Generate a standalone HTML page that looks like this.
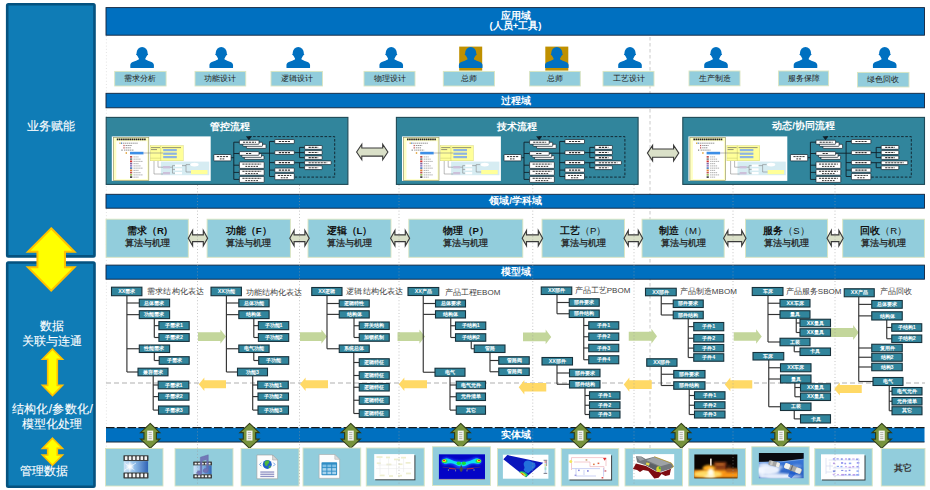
<!DOCTYPE html>
<html><head><meta charset="utf-8"><title>diagram</title>
<style>
html,body{margin:0;padding:0;background:#fff}
body{width:930px;height:490px;position:relative;overflow:hidden;font-family:"Liberation Sans",sans-serif}
svg{position:absolute;left:0;top:0}
.t{position:absolute;text-align:center;white-space:nowrap}
b{font-weight:bold}
</style></head><body>
<svg width="930" height="490" viewBox="0 0 930 490">
<rect x="7.2" y="4.3" width="87.3" height="252.1" fill="#0f7cb6" stroke="#05527f" stroke-width="2.6" rx="1.2"/>
<rect x="7.2" y="262.5" width="87.3" height="224.2" fill="#0f7cb6" stroke="#05527f" stroke-width="2.6" rx="1.2"/>
<line x1="106.4" y1="36" x2="106.4" y2="448" stroke="#dcdcdc" stroke-width="0.8" stroke-dasharray="1 2.2"/>
<line x1="650" y1="37" x2="650" y2="448" stroke="#c4c4c4" stroke-width="0.9" stroke-dasharray="3.5 2.5"/>
<line x1="106" y1="383" x2="925" y2="383" stroke="#a6a6a6" stroke-width="0.9" stroke-dasharray="5 3"/>
<rect x="106" y="7.6" width="818.5" height="27.6" fill="#0070c0" stroke="#13233a" stroke-width="0.9" />
<rect x="106" y="93.3" width="818.5" height="14.5" fill="#0070c0" stroke="#13233a" stroke-width="0.9" />
<rect x="106" y="194.3" width="818.5" height="13.9" fill="#0070c0" stroke="#13233a" stroke-width="0.9" />
<rect x="106" y="265.1" width="818.5" height="14.1" fill="#0070c0" stroke="#13233a" stroke-width="0.9" />
<rect x="106" y="427.8" width="818.5" height="14.2" fill="#0070c0" />
<line x1="106" y1="442" x2="924.5" y2="442" stroke="#1a2a3a" stroke-width="1" />
<line x1="106" y1="427.6" x2="924.5" y2="427.6" stroke="#1a1a1a" stroke-width="1.3" stroke-dasharray="8.5 2.3"/>
<ellipse cx="142.1" cy="53" rx="5.55" ry="6" fill="#0070c0"/>
<ellipse cx="142.1" cy="54.4" rx="6.1" ry="1.6" fill="#0070c0"/>
<path d="M130.3 67.4 v-2.3 c0-3.4 5.4-4 8.5-5.7 v-3.4 h6.6 v3.4 c3.1 1.7 8.5 2.3 8.5 5.7 v2.3 q0 0.6 -0.6 0.6 h-22.4 q-0.6 0 -0.6 -0.6 z" fill="#0070c0" />
<rect x="114.7" y="71.4" width="51.4" height="14.6" fill="#92cddc" stroke="#dbe5c0" stroke-width="0.9" />
<ellipse cx="221.25" cy="53" rx="5.55" ry="6" fill="#0070c0"/>
<ellipse cx="221.25" cy="54.4" rx="6.1" ry="1.6" fill="#0070c0"/>
<path d="M209.45 67.4 v-2.3 c0-3.4 5.4-4 8.5-5.7 v-3.4 h6.6 v3.4 c3.1 1.7 8.5 2.3 8.5 5.7 v2.3 q0 0.6 -0.6 0.6 h-22.4 q-0.6 0 -0.6 -0.6 z" fill="#0070c0" />
<rect x="195" y="71.4" width="50.75" height="14.6" fill="#92cddc" stroke="#dbe5c0" stroke-width="0.9" />
<ellipse cx="298.25" cy="53" rx="5.55" ry="6" fill="#0070c0"/>
<ellipse cx="298.25" cy="54.4" rx="6.1" ry="1.6" fill="#0070c0"/>
<path d="M286.45 67.4 v-2.3 c0-3.4 5.4-4 8.5-5.7 v-3.4 h6.6 v3.4 c3.1 1.7 8.5 2.3 8.5 5.7 v2.3 q0 0.6 -0.6 0.6 h-22.4 q-0.6 0 -0.6 -0.6 z" fill="#0070c0" />
<rect x="271" y="71.4" width="51.5" height="14.6" fill="#92cddc" stroke="#dbe5c0" stroke-width="0.9" />
<ellipse cx="391.25" cy="53" rx="5.55" ry="6" fill="#0070c0"/>
<ellipse cx="391.25" cy="54.4" rx="6.1" ry="1.6" fill="#0070c0"/>
<path d="M379.45 67.4 v-2.3 c0-3.4 5.4-4 8.5-5.7 v-3.4 h6.6 v3.4 c3.1 1.7 8.5 2.3 8.5 5.7 v2.3 q0 0.6 -0.6 0.6 h-22.4 q-0.6 0 -0.6 -0.6 z" fill="#0070c0" />
<rect x="364" y="71.4" width="51" height="14.6" fill="#92cddc" stroke="#dbe5c0" stroke-width="0.9" />
<rect x="459.2" y="46.6" width="23" height="24" fill="#bf9000" />
<ellipse cx="470.7" cy="53" rx="5.55" ry="6" fill="#0070c0"/>
<ellipse cx="470.7" cy="54.4" rx="6.1" ry="1.6" fill="#0070c0"/>
<path d="M458.9 67.4 v-2.3 c0-3.4 5.4-4 8.5-5.7 v-3.4 h6.6 v3.4 c3.1 1.7 8.5 2.3 8.5 5.7 v2.3 q0 0.6 -0.6 0.6 h-22.4 q-0.6 0 -0.6 -0.6 z" fill="#0070c0" />
<rect x="443.3" y="71.4" width="51.2" height="14.6" fill="#92cddc" stroke="#dbe5c0" stroke-width="0.9" />
<rect x="545.3" y="46.6" width="23" height="24" fill="#bf9000" />
<ellipse cx="556.8" cy="53" rx="5.55" ry="6" fill="#0070c0"/>
<ellipse cx="556.8" cy="54.4" rx="6.1" ry="1.6" fill="#0070c0"/>
<path d="M545 67.4 v-2.3 c0-3.4 5.4-4 8.5-5.7 v-3.4 h6.6 v3.4 c3.1 1.7 8.5 2.3 8.5 5.7 v2.3 q0 0.6 -0.6 0.6 h-22.4 q-0.6 0 -0.6 -0.6 z" fill="#0070c0" />
<rect x="529.6" y="71.4" width="50.7" height="14.6" fill="#92cddc" stroke="#dbe5c0" stroke-width="0.9" />
<ellipse cx="630" cy="53" rx="5.55" ry="6" fill="#0070c0"/>
<ellipse cx="630" cy="54.4" rx="6.1" ry="1.6" fill="#0070c0"/>
<path d="M618.2 67.4 v-2.3 c0-3.4 5.4-4 8.5-5.7 v-3.4 h6.6 v3.4 c3.1 1.7 8.5 2.3 8.5 5.7 v2.3 q0 0.6 -0.6 0.6 h-22.4 q-0.6 0 -0.6 -0.6 z" fill="#0070c0" />
<rect x="603" y="71.4" width="51" height="14.6" fill="#92cddc" stroke="#dbe5c0" stroke-width="0.9" />
<ellipse cx="716" cy="53" rx="5.55" ry="6" fill="#0070c0"/>
<ellipse cx="716" cy="54.4" rx="6.1" ry="1.6" fill="#0070c0"/>
<path d="M704.2 67.4 v-2.3 c0-3.4 5.4-4 8.5-5.7 v-3.4 h6.6 v3.4 c3.1 1.7 8.5 2.3 8.5 5.7 v2.3 q0 0.6 -0.6 0.6 h-22.4 q-0.6 0 -0.6 -0.6 z" fill="#0070c0" />
<rect x="689" y="71" width="51" height="14.8" fill="#92cddc" stroke="#dbe5c0" stroke-width="0.9" />
<ellipse cx="805.5" cy="53" rx="5.55" ry="6" fill="#0070c0"/>
<ellipse cx="805.5" cy="54.4" rx="6.1" ry="1.6" fill="#0070c0"/>
<path d="M793.7 67.4 v-2.3 c0-3.4 5.4-4 8.5-5.7 v-3.4 h6.6 v3.4 c3.1 1.7 8.5 2.3 8.5 5.7 v2.3 q0 0.6 -0.6 0.6 h-22.4 q-0.6 0 -0.6 -0.6 z" fill="#0070c0" />
<rect x="778.5" y="71" width="50.1" height="14.8" fill="#92cddc" stroke="#dbe5c0" stroke-width="0.9" />
<ellipse cx="884.7" cy="53" rx="5.55" ry="6" fill="#0070c0"/>
<ellipse cx="884.7" cy="54.4" rx="6.1" ry="1.6" fill="#0070c0"/>
<path d="M872.9 67.4 v-2.3 c0-3.4 5.4-4 8.5-5.7 v-3.4 h6.6 v3.4 c3.1 1.7 8.5 2.3 8.5 5.7 v2.3 q0 0.6 -0.6 0.6 h-22.4 q-0.6 0 -0.6 -0.6 z" fill="#0070c0" />
<rect x="857.5" y="72.4" width="51.5" height="14.6" fill="#92cddc" stroke="#dbe5c0" stroke-width="0.9" />
<rect x="106.2" y="117.4" width="241.7" height="67" fill="#31859c" stroke="#1f4a57" stroke-width="1.1" />
<g transform="translate(0 0)">
<rect x="111.8" y="136.4" width="98.9" height="44.5" fill="#fff" />
<rect x="113.3" y="137.4" width="35.5" height="43.1" fill="#ffffc4" stroke="#8c8c58" stroke-width="0.6" />
<rect x="116.3" y="141.2" width="31" height="38" fill="#fff" />
<line x1="116.8" y1="139.4" x2="146.2" y2="139.4" stroke="#222" stroke-width="1.7" stroke-dasharray="1.6 0.5"/>
<line x1="123" y1="143.2" x2="138" y2="143.2" stroke="#666" stroke-width="0.7" stroke-dasharray="1.4 0.5"/>
<line x1="125.6" y1="145.5" x2="132" y2="145.5" stroke="#666" stroke-width="0.7" stroke-dasharray="1.4 0.5"/>
<line x1="125.6" y1="147.8" x2="131" y2="147.8" stroke="#666" stroke-width="0.7" stroke-dasharray="1.4 0.5"/>
<line x1="124" y1="150.1" x2="134" y2="150.1" stroke="#666" stroke-width="0.7" stroke-dasharray="1.4 0.5"/>
<rect x="119.4" y="142.5" width="1.2" height="1.4" fill="#e0b030" />
<rect x="121" y="142.5" width="1.2" height="1.4" fill="#4f81bd" />
<rect x="123.4" y="144.9" width="1.2" height="1.3" fill="#c0504d" />
<rect x="123.4" y="147.2" width="1.2" height="1.3" fill="#c0504d" />
<rect x="121.4" y="149.5" width="1.2" height="1.3" fill="#888" />
<rect x="125.6" y="152.2" width="1.4" height="1.6" fill="#e0a030" />
<rect x="130" y="151.8" width="13.5" height="2.6" fill="#3c8ee6" />
<rect x="130" y="156" width="2.2" height="1.7" fill="#c0504d" />
<line x1="133.5" y1="156.9" x2="138.5" y2="156.9" stroke="#777" stroke-width="0.6" stroke-dasharray="1.4 0.5"/>
<rect x="130" y="158.25" width="2.2" height="1.7" fill="#7f7f7f" />
<line x1="133.5" y1="159.15" x2="140.5" y2="159.15" stroke="#777" stroke-width="0.6" stroke-dasharray="1.4 0.5"/>
<rect x="130" y="160.5" width="2.2" height="1.7" fill="#d03030" />
<line x1="133.5" y1="161.4" x2="142.5" y2="161.4" stroke="#777" stroke-width="0.6" stroke-dasharray="1.4 0.5"/>
<rect x="130" y="162.75" width="2.2" height="1.7" fill="#8064a2" />
<line x1="133.5" y1="163.65" x2="138.5" y2="163.65" stroke="#777" stroke-width="0.6" stroke-dasharray="1.4 0.5"/>
<rect x="130" y="165" width="2.2" height="1.7" fill="#9b7fc0" />
<line x1="133.5" y1="165.9" x2="140.5" y2="165.9" stroke="#777" stroke-width="0.6" stroke-dasharray="1.4 0.5"/>
<rect x="130" y="167.25" width="2.2" height="1.7" fill="#4f81bd" />
<line x1="133.5" y1="168.15" x2="142.5" y2="168.15" stroke="#777" stroke-width="0.6" stroke-dasharray="1.4 0.5"/>
<rect x="130" y="169.5" width="2.2" height="1.7" fill="#e08030" />
<line x1="133.5" y1="170.4" x2="138.5" y2="170.4" stroke="#777" stroke-width="0.6" stroke-dasharray="1.4 0.5"/>
<rect x="130" y="171.75" width="2.2" height="1.7" fill="#c0504d" />
<line x1="133.5" y1="172.65" x2="140.5" y2="172.65" stroke="#777" stroke-width="0.6" stroke-dasharray="1.4 0.5"/>
<rect x="130" y="174" width="2.2" height="1.7" fill="#9bbb59" />
<line x1="133.5" y1="174.9" x2="142.5" y2="174.9" stroke="#777" stroke-width="0.6" stroke-dasharray="1.4 0.5"/>
<rect x="130" y="176.25" width="2.2" height="1.7" fill="#444" />
<line x1="133.5" y1="177.15" x2="138.5" y2="177.15" stroke="#777" stroke-width="0.6" stroke-dasharray="1.4 0.5"/>
<rect x="150.3" y="145.7" width="32.9" height="15.1" fill="#ffff99" stroke="#d0d068" stroke-width="0.4" />
<path d="M160.7 145.7 V160.8 M150.3 158.2 H160.7" fill="none" stroke="#b8b860" stroke-width="0.4" />
<line x1="151" y1="147.6" x2="160" y2="147.6" stroke="#666" stroke-width="0.7" />
<line x1="151" y1="149.6" x2="157" y2="149.6" stroke="#666" stroke-width="0.7" />
<line x1="162" y1="147.6" x2="181" y2="147.6" stroke="#666" stroke-width="0.7" />
<rect x="163.2" y="149" width="13.6" height="2.2" fill="#8db4e2" />
<rect x="163.2" y="152.6" width="13.6" height="2.2" fill="#8db4e2" />
<rect x="163.2" y="156" width="13.6" height="2.2" fill="#8db4e2" />
<rect x="160.9" y="161.6" width="48.3" height="13.6" fill="#d6ecf2" />
<rect x="163" y="166" width="7" height="2.4" fill="#ccc0da" />
<rect x="163" y="172" width="7" height="2.4" fill="#ccc0da" />
<rect x="175" y="164.5" width="7" height="2.3" fill="#fff" />
<rect x="175" y="168.3" width="7" height="2.3" fill="#fff" />
<rect x="175" y="172" width="7" height="2.3" fill="#fff" />
<ellipse cx="194.5" cy="164.6" rx="4.2" ry="1.9" fill="#fff"/>
<rect x="191" y="170" width="16.5" height="4.2" fill="#ffff99" />
<path d="M154 161 V174 H163 M158 161 V167.2 H163 M170 167.2 H172.5 V165.6 H175 M172.5 167.2 V173.2 H175 M172.5 169.4 H175 M182 165.6 H186 V164.6 H190 M186 165.6 V172 H191 M143.5 153 H163" fill="none" stroke="#777" stroke-width="0.5" />
</g>
<g transform="translate(0 0)">
<path d="M231.1 157.7 H233.8 M233.8 142.2 V179.4 M233.8 142.2 H239.4 M233.8 153.5 H239.4 M233.8 165.2 H239.4 M233.8 172.4 H239.4 M233.8 179.4 H239.4 M259 153.2 H274.8 M269.5 141.5 V176.5 M269.5 141.5 H274.8 M269.5 162.6 H274.8 M269.5 170.1 H274.8 M269.5 176.5 H274.8 M294.3 152.6 H304.6 M299.6 147.4 V157.6 M299.6 147.4 H304.6 M299.6 157.6 H304.6 M294.3 162.7 H304.6 M299.6 162.7 V167.7 H304.6" fill="none" stroke="#10202a" stroke-width="0.9" />
<path d="M248.9 136.6 H334.7 V177.1 H294.3" fill="none" stroke="#10202a" stroke-width="0.9" stroke-dasharray="2.6 1.6"/>
<path d="M245.9 136.3 H251.9 L248.9 140.3 Z" fill="#10202a" />
<rect x="213.8" y="154.5" width="17.3" height="6.4" fill="#fff" stroke="#10202a" stroke-width="0.7" rx="0.6"/>
<line x1="216.8" y1="156.6" x2="228.1" y2="156.6" stroke="#333" stroke-width="1" stroke-dasharray="2.2 0.8"/>
<line x1="219.8" y1="158.9" x2="225.1" y2="158.9" stroke="#333" stroke-width="1" stroke-dasharray="1.8 0.9"/>
<rect x="246.4" y="144.3" width="19.6" height="4.1" fill="#fff" stroke="#10202a" stroke-width="0.7" rx="0.6"/>
<rect x="242.9" y="142.25" width="19.6" height="4.1" fill="#fff" stroke="#10202a" stroke-width="0.7" rx="0.6"/>
<rect x="239.4" y="140.2" width="19.6" height="4.1" fill="#fff" stroke="#10202a" stroke-width="0.7" rx="0.6"/>
<line x1="243" y1="142.2" x2="256" y2="142.2" stroke="#333" stroke-width="1.1" stroke-dasharray="2.2 0.8"/>
<rect x="244.4" y="155.7" width="19.6" height="3.7" fill="#fff" stroke="#10202a" stroke-width="0.7" rx="0.6"/>
<rect x="241.9" y="153.65" width="19.6" height="3.7" fill="#fff" stroke="#10202a" stroke-width="0.7" rx="0.6"/>
<rect x="239.4" y="151.6" width="19.6" height="3.7" fill="#fff" stroke="#10202a" stroke-width="0.7" rx="0.6"/>
<line x1="246" y1="153.5" x2="252" y2="153.5" stroke="#333" stroke-width="1.1" stroke-dasharray="2.2 0.8"/>
<rect x="239.4" y="162" width="24.8" height="6.4" fill="#fff" stroke="#10202a" stroke-width="0.7" rx="0.6"/>
<line x1="242.4" y1="164.1" x2="261.2" y2="164.1" stroke="#333" stroke-width="1" stroke-dasharray="2.2 0.8"/>
<line x1="245.4" y1="166.4" x2="258.2" y2="166.4" stroke="#333" stroke-width="1" stroke-dasharray="1.8 0.9"/>
<rect x="239.4" y="169.6" width="24.8" height="5.6" fill="#fff" stroke="#10202a" stroke-width="0.7" rx="0.6"/>
<line x1="242.4" y1="171.3" x2="261.2" y2="171.3" stroke="#333" stroke-width="1" stroke-dasharray="2.2 0.8"/>
<line x1="245.4" y1="173.6" x2="258.2" y2="173.6" stroke="#333" stroke-width="1" stroke-dasharray="1.8 0.9"/>
<rect x="239.4" y="176.4" width="24.8" height="6" fill="#fff" stroke="#10202a" stroke-width="0.7" rx="0.6"/>
<line x1="242.4" y1="178.3" x2="261.2" y2="178.3" stroke="#333" stroke-width="1" stroke-dasharray="2.2 0.8"/>
<line x1="245.4" y1="180.6" x2="258.2" y2="180.6" stroke="#333" stroke-width="1" stroke-dasharray="1.8 0.9"/>
<rect x="274.8" y="139.5" width="19.5" height="4.1" fill="#fff" stroke="#10202a" stroke-width="0.7" rx="0.6"/>
<line x1="278.8" y1="141.55" x2="290.3" y2="141.55" stroke="#333" stroke-width="1.1" stroke-dasharray="2.2 0.8"/>
<rect x="274.8" y="150.8" width="19.5" height="3.7" fill="#fff" stroke="#10202a" stroke-width="0.7" rx="0.6"/>
<line x1="278.8" y1="152.65" x2="290.3" y2="152.65" stroke="#333" stroke-width="1.1" stroke-dasharray="2.2 0.8"/>
<rect x="274.8" y="160.6" width="19.5" height="4" fill="#fff" stroke="#10202a" stroke-width="0.7" rx="0.6"/>
<line x1="278.8" y1="162.6" x2="290.3" y2="162.6" stroke="#333" stroke-width="1.1" stroke-dasharray="2.2 0.8"/>
<rect x="274.8" y="168.1" width="19.5" height="4.1" fill="#fff" stroke="#10202a" stroke-width="0.7" rx="0.6"/>
<line x1="278.8" y1="170.15" x2="290.3" y2="170.15" stroke="#333" stroke-width="1.1" stroke-dasharray="2.2 0.8"/>
<rect x="274.8" y="173.4" width="19.5" height="6.3" fill="#fff" stroke="#10202a" stroke-width="0.7" rx="0.6"/>
<line x1="277.8" y1="175.45" x2="291.3" y2="175.45" stroke="#333" stroke-width="1" stroke-dasharray="2.2 0.8"/>
<line x1="280.8" y1="177.75" x2="288.3" y2="177.75" stroke="#333" stroke-width="1" stroke-dasharray="1.8 0.9"/>
<rect x="304.6" y="145.5" width="17.6" height="3.8" fill="#fff" stroke="#10202a" stroke-width="0.7" rx="0.6"/>
<line x1="308.6" y1="147.4" x2="318.2" y2="147.4" stroke="#333" stroke-width="1.1" stroke-dasharray="2.2 0.8"/>
<rect x="304.6" y="150.6" width="17.6" height="3.9" fill="#fff" stroke="#10202a" stroke-width="0.7" rx="0.6"/>
<line x1="308.6" y1="152.55" x2="318.2" y2="152.55" stroke="#333" stroke-width="1.1" stroke-dasharray="2.2 0.8"/>
<rect x="304.6" y="155.9" width="17.6" height="3.5" fill="#fff" stroke="#10202a" stroke-width="0.7" rx="0.6"/>
<line x1="308.6" y1="157.65" x2="318.2" y2="157.65" stroke="#333" stroke-width="1.1" stroke-dasharray="2.2 0.8"/>
<rect x="304.6" y="160.9" width="26.6" height="3.7" fill="#fff" stroke="#10202a" stroke-width="0.7" rx="0.6"/>
<line x1="308.6" y1="162.75" x2="327.2" y2="162.75" stroke="#333" stroke-width="1.1" stroke-dasharray="2.2 0.8"/>
<rect x="304.6" y="165.8" width="17.6" height="3.8" fill="#fff" stroke="#10202a" stroke-width="0.7" rx="0.6"/>
<line x1="308.6" y1="167.7" x2="318.2" y2="167.7" stroke="#333" stroke-width="1.1" stroke-dasharray="2.2 0.8"/>
</g>
<rect x="396.4" y="117.4" width="241.7" height="67" fill="#31859c" stroke="#1f4a57" stroke-width="1.1" />
<g transform="translate(290.2 0)">
<rect x="111.8" y="136.4" width="98.9" height="44.5" fill="#fff" />
<rect x="113.3" y="137.4" width="35.5" height="43.1" fill="#ffffc4" stroke="#8c8c58" stroke-width="0.6" />
<rect x="116.3" y="141.2" width="31" height="38" fill="#fff" />
<line x1="116.8" y1="139.4" x2="146.2" y2="139.4" stroke="#222" stroke-width="1.7" stroke-dasharray="1.6 0.5"/>
<line x1="123" y1="143.2" x2="138" y2="143.2" stroke="#666" stroke-width="0.7" stroke-dasharray="1.4 0.5"/>
<line x1="125.6" y1="145.5" x2="132" y2="145.5" stroke="#666" stroke-width="0.7" stroke-dasharray="1.4 0.5"/>
<line x1="125.6" y1="147.8" x2="131" y2="147.8" stroke="#666" stroke-width="0.7" stroke-dasharray="1.4 0.5"/>
<line x1="124" y1="150.1" x2="134" y2="150.1" stroke="#666" stroke-width="0.7" stroke-dasharray="1.4 0.5"/>
<rect x="119.4" y="142.5" width="1.2" height="1.4" fill="#e0b030" />
<rect x="121" y="142.5" width="1.2" height="1.4" fill="#4f81bd" />
<rect x="123.4" y="144.9" width="1.2" height="1.3" fill="#c0504d" />
<rect x="123.4" y="147.2" width="1.2" height="1.3" fill="#c0504d" />
<rect x="121.4" y="149.5" width="1.2" height="1.3" fill="#888" />
<rect x="125.6" y="152.2" width="1.4" height="1.6" fill="#e0a030" />
<rect x="130" y="151.8" width="13.5" height="2.6" fill="#3c8ee6" />
<rect x="130" y="156" width="2.2" height="1.7" fill="#c0504d" />
<line x1="133.5" y1="156.9" x2="138.5" y2="156.9" stroke="#777" stroke-width="0.6" stroke-dasharray="1.4 0.5"/>
<rect x="130" y="158.25" width="2.2" height="1.7" fill="#7f7f7f" />
<line x1="133.5" y1="159.15" x2="140.5" y2="159.15" stroke="#777" stroke-width="0.6" stroke-dasharray="1.4 0.5"/>
<rect x="130" y="160.5" width="2.2" height="1.7" fill="#d03030" />
<line x1="133.5" y1="161.4" x2="142.5" y2="161.4" stroke="#777" stroke-width="0.6" stroke-dasharray="1.4 0.5"/>
<rect x="130" y="162.75" width="2.2" height="1.7" fill="#8064a2" />
<line x1="133.5" y1="163.65" x2="138.5" y2="163.65" stroke="#777" stroke-width="0.6" stroke-dasharray="1.4 0.5"/>
<rect x="130" y="165" width="2.2" height="1.7" fill="#9b7fc0" />
<line x1="133.5" y1="165.9" x2="140.5" y2="165.9" stroke="#777" stroke-width="0.6" stroke-dasharray="1.4 0.5"/>
<rect x="130" y="167.25" width="2.2" height="1.7" fill="#4f81bd" />
<line x1="133.5" y1="168.15" x2="142.5" y2="168.15" stroke="#777" stroke-width="0.6" stroke-dasharray="1.4 0.5"/>
<rect x="130" y="169.5" width="2.2" height="1.7" fill="#e08030" />
<line x1="133.5" y1="170.4" x2="138.5" y2="170.4" stroke="#777" stroke-width="0.6" stroke-dasharray="1.4 0.5"/>
<rect x="130" y="171.75" width="2.2" height="1.7" fill="#c0504d" />
<line x1="133.5" y1="172.65" x2="140.5" y2="172.65" stroke="#777" stroke-width="0.6" stroke-dasharray="1.4 0.5"/>
<rect x="130" y="174" width="2.2" height="1.7" fill="#9bbb59" />
<line x1="133.5" y1="174.9" x2="142.5" y2="174.9" stroke="#777" stroke-width="0.6" stroke-dasharray="1.4 0.5"/>
<rect x="130" y="176.25" width="2.2" height="1.7" fill="#444" />
<line x1="133.5" y1="177.15" x2="138.5" y2="177.15" stroke="#777" stroke-width="0.6" stroke-dasharray="1.4 0.5"/>
<rect x="150.3" y="145.7" width="32.9" height="15.1" fill="#ffff99" stroke="#d0d068" stroke-width="0.4" />
<path d="M160.7 145.7 V160.8 M150.3 158.2 H160.7" fill="none" stroke="#b8b860" stroke-width="0.4" />
<line x1="151" y1="147.6" x2="160" y2="147.6" stroke="#666" stroke-width="0.7" />
<line x1="151" y1="149.6" x2="157" y2="149.6" stroke="#666" stroke-width="0.7" />
<line x1="162" y1="147.6" x2="181" y2="147.6" stroke="#666" stroke-width="0.7" />
<rect x="163.2" y="149" width="13.6" height="2.2" fill="#8db4e2" />
<rect x="163.2" y="152.6" width="13.6" height="2.2" fill="#8db4e2" />
<rect x="163.2" y="156" width="13.6" height="2.2" fill="#8db4e2" />
<rect x="160.9" y="161.6" width="48.3" height="13.6" fill="#d6ecf2" />
<rect x="163" y="166" width="7" height="2.4" fill="#ccc0da" />
<rect x="163" y="172" width="7" height="2.4" fill="#ccc0da" />
<rect x="175" y="164.5" width="7" height="2.3" fill="#fff" />
<rect x="175" y="168.3" width="7" height="2.3" fill="#fff" />
<rect x="175" y="172" width="7" height="2.3" fill="#fff" />
<ellipse cx="194.5" cy="164.6" rx="4.2" ry="1.9" fill="#fff"/>
<rect x="191" y="170" width="16.5" height="4.2" fill="#ffff99" />
<path d="M154 161 V174 H163 M158 161 V167.2 H163 M170 167.2 H172.5 V165.6 H175 M172.5 167.2 V173.2 H175 M172.5 169.4 H175 M182 165.6 H186 V164.6 H190 M186 165.6 V172 H191 M143.5 153 H163" fill="none" stroke="#777" stroke-width="0.5" />
</g>
<g transform="translate(290.2 0)">
<path d="M231.1 157.7 H233.8 M233.8 142.2 V179.4 M233.8 142.2 H239.4 M233.8 153.5 H239.4 M233.8 165.2 H239.4 M233.8 172.4 H239.4 M233.8 179.4 H239.4 M259 153.2 H274.8 M269.5 141.5 V176.5 M269.5 141.5 H274.8 M269.5 162.6 H274.8 M269.5 170.1 H274.8 M269.5 176.5 H274.8 M294.3 152.6 H304.6 M299.6 147.4 V157.6 M299.6 147.4 H304.6 M299.6 157.6 H304.6 M294.3 162.7 H304.6 M299.6 162.7 V167.7 H304.6" fill="none" stroke="#10202a" stroke-width="0.9" />
<path d="M248.9 136.6 H334.7 V177.1 H294.3" fill="none" stroke="#10202a" stroke-width="0.9" stroke-dasharray="2.6 1.6"/>
<path d="M245.9 136.3 H251.9 L248.9 140.3 Z" fill="#10202a" />
<rect x="213.8" y="154.5" width="17.3" height="6.4" fill="#fff" stroke="#10202a" stroke-width="0.7" rx="0.6"/>
<line x1="216.8" y1="156.6" x2="228.1" y2="156.6" stroke="#333" stroke-width="1" stroke-dasharray="2.2 0.8"/>
<line x1="219.8" y1="158.9" x2="225.1" y2="158.9" stroke="#333" stroke-width="1" stroke-dasharray="1.8 0.9"/>
<rect x="246.4" y="144.3" width="19.6" height="4.1" fill="#fff" stroke="#10202a" stroke-width="0.7" rx="0.6"/>
<rect x="242.9" y="142.25" width="19.6" height="4.1" fill="#fff" stroke="#10202a" stroke-width="0.7" rx="0.6"/>
<rect x="239.4" y="140.2" width="19.6" height="4.1" fill="#fff" stroke="#10202a" stroke-width="0.7" rx="0.6"/>
<line x1="243" y1="142.2" x2="256" y2="142.2" stroke="#333" stroke-width="1.1" stroke-dasharray="2.2 0.8"/>
<rect x="244.4" y="155.7" width="19.6" height="3.7" fill="#fff" stroke="#10202a" stroke-width="0.7" rx="0.6"/>
<rect x="241.9" y="153.65" width="19.6" height="3.7" fill="#fff" stroke="#10202a" stroke-width="0.7" rx="0.6"/>
<rect x="239.4" y="151.6" width="19.6" height="3.7" fill="#fff" stroke="#10202a" stroke-width="0.7" rx="0.6"/>
<line x1="246" y1="153.5" x2="252" y2="153.5" stroke="#333" stroke-width="1.1" stroke-dasharray="2.2 0.8"/>
<rect x="239.4" y="162" width="24.8" height="6.4" fill="#fff" stroke="#10202a" stroke-width="0.7" rx="0.6"/>
<line x1="242.4" y1="164.1" x2="261.2" y2="164.1" stroke="#333" stroke-width="1" stroke-dasharray="2.2 0.8"/>
<line x1="245.4" y1="166.4" x2="258.2" y2="166.4" stroke="#333" stroke-width="1" stroke-dasharray="1.8 0.9"/>
<rect x="239.4" y="169.6" width="24.8" height="5.6" fill="#fff" stroke="#10202a" stroke-width="0.7" rx="0.6"/>
<line x1="242.4" y1="171.3" x2="261.2" y2="171.3" stroke="#333" stroke-width="1" stroke-dasharray="2.2 0.8"/>
<line x1="245.4" y1="173.6" x2="258.2" y2="173.6" stroke="#333" stroke-width="1" stroke-dasharray="1.8 0.9"/>
<rect x="239.4" y="176.4" width="24.8" height="6" fill="#fff" stroke="#10202a" stroke-width="0.7" rx="0.6"/>
<line x1="242.4" y1="178.3" x2="261.2" y2="178.3" stroke="#333" stroke-width="1" stroke-dasharray="2.2 0.8"/>
<line x1="245.4" y1="180.6" x2="258.2" y2="180.6" stroke="#333" stroke-width="1" stroke-dasharray="1.8 0.9"/>
<rect x="274.8" y="139.5" width="19.5" height="4.1" fill="#fff" stroke="#10202a" stroke-width="0.7" rx="0.6"/>
<line x1="278.8" y1="141.55" x2="290.3" y2="141.55" stroke="#333" stroke-width="1.1" stroke-dasharray="2.2 0.8"/>
<rect x="274.8" y="150.8" width="19.5" height="3.7" fill="#fff" stroke="#10202a" stroke-width="0.7" rx="0.6"/>
<line x1="278.8" y1="152.65" x2="290.3" y2="152.65" stroke="#333" stroke-width="1.1" stroke-dasharray="2.2 0.8"/>
<rect x="274.8" y="160.6" width="19.5" height="4" fill="#fff" stroke="#10202a" stroke-width="0.7" rx="0.6"/>
<line x1="278.8" y1="162.6" x2="290.3" y2="162.6" stroke="#333" stroke-width="1.1" stroke-dasharray="2.2 0.8"/>
<rect x="274.8" y="168.1" width="19.5" height="4.1" fill="#fff" stroke="#10202a" stroke-width="0.7" rx="0.6"/>
<line x1="278.8" y1="170.15" x2="290.3" y2="170.15" stroke="#333" stroke-width="1.1" stroke-dasharray="2.2 0.8"/>
<rect x="274.8" y="173.4" width="19.5" height="6.3" fill="#fff" stroke="#10202a" stroke-width="0.7" rx="0.6"/>
<line x1="277.8" y1="175.45" x2="291.3" y2="175.45" stroke="#333" stroke-width="1" stroke-dasharray="2.2 0.8"/>
<line x1="280.8" y1="177.75" x2="288.3" y2="177.75" stroke="#333" stroke-width="1" stroke-dasharray="1.8 0.9"/>
<rect x="304.6" y="145.5" width="17.6" height="3.8" fill="#fff" stroke="#10202a" stroke-width="0.7" rx="0.6"/>
<line x1="308.6" y1="147.4" x2="318.2" y2="147.4" stroke="#333" stroke-width="1.1" stroke-dasharray="2.2 0.8"/>
<rect x="304.6" y="150.6" width="17.6" height="3.9" fill="#fff" stroke="#10202a" stroke-width="0.7" rx="0.6"/>
<line x1="308.6" y1="152.55" x2="318.2" y2="152.55" stroke="#333" stroke-width="1.1" stroke-dasharray="2.2 0.8"/>
<rect x="304.6" y="155.9" width="17.6" height="3.5" fill="#fff" stroke="#10202a" stroke-width="0.7" rx="0.6"/>
<line x1="308.6" y1="157.65" x2="318.2" y2="157.65" stroke="#333" stroke-width="1.1" stroke-dasharray="2.2 0.8"/>
<rect x="304.6" y="160.9" width="26.6" height="3.7" fill="#fff" stroke="#10202a" stroke-width="0.7" rx="0.6"/>
<line x1="308.6" y1="162.75" x2="327.2" y2="162.75" stroke="#333" stroke-width="1.1" stroke-dasharray="2.2 0.8"/>
<rect x="304.6" y="165.8" width="17.6" height="3.8" fill="#fff" stroke="#10202a" stroke-width="0.7" rx="0.6"/>
<line x1="308.6" y1="167.7" x2="318.2" y2="167.7" stroke="#333" stroke-width="1.1" stroke-dasharray="2.2 0.8"/>
</g>
<rect x="682.8" y="117.4" width="241.7" height="67" fill="#31859c" stroke="#1f4a57" stroke-width="1.1" />
<g transform="translate(576.6 0)">
<rect x="111.8" y="136.4" width="98.9" height="44.5" fill="#fff" />
<rect x="113.3" y="137.4" width="35.5" height="43.1" fill="#ffffc4" stroke="#8c8c58" stroke-width="0.6" />
<rect x="116.3" y="141.2" width="31" height="38" fill="#fff" />
<line x1="116.8" y1="139.4" x2="146.2" y2="139.4" stroke="#222" stroke-width="1.7" stroke-dasharray="1.6 0.5"/>
<line x1="123" y1="143.2" x2="138" y2="143.2" stroke="#666" stroke-width="0.7" stroke-dasharray="1.4 0.5"/>
<line x1="125.6" y1="145.5" x2="132" y2="145.5" stroke="#666" stroke-width="0.7" stroke-dasharray="1.4 0.5"/>
<line x1="125.6" y1="147.8" x2="131" y2="147.8" stroke="#666" stroke-width="0.7" stroke-dasharray="1.4 0.5"/>
<line x1="124" y1="150.1" x2="134" y2="150.1" stroke="#666" stroke-width="0.7" stroke-dasharray="1.4 0.5"/>
<rect x="119.4" y="142.5" width="1.2" height="1.4" fill="#e0b030" />
<rect x="121" y="142.5" width="1.2" height="1.4" fill="#4f81bd" />
<rect x="123.4" y="144.9" width="1.2" height="1.3" fill="#c0504d" />
<rect x="123.4" y="147.2" width="1.2" height="1.3" fill="#c0504d" />
<rect x="121.4" y="149.5" width="1.2" height="1.3" fill="#888" />
<rect x="125.6" y="152.2" width="1.4" height="1.6" fill="#e0a030" />
<rect x="130" y="151.8" width="13.5" height="2.6" fill="#3c8ee6" />
<rect x="130" y="156" width="2.2" height="1.7" fill="#c0504d" />
<line x1="133.5" y1="156.9" x2="138.5" y2="156.9" stroke="#777" stroke-width="0.6" stroke-dasharray="1.4 0.5"/>
<rect x="130" y="158.25" width="2.2" height="1.7" fill="#7f7f7f" />
<line x1="133.5" y1="159.15" x2="140.5" y2="159.15" stroke="#777" stroke-width="0.6" stroke-dasharray="1.4 0.5"/>
<rect x="130" y="160.5" width="2.2" height="1.7" fill="#d03030" />
<line x1="133.5" y1="161.4" x2="142.5" y2="161.4" stroke="#777" stroke-width="0.6" stroke-dasharray="1.4 0.5"/>
<rect x="130" y="162.75" width="2.2" height="1.7" fill="#8064a2" />
<line x1="133.5" y1="163.65" x2="138.5" y2="163.65" stroke="#777" stroke-width="0.6" stroke-dasharray="1.4 0.5"/>
<rect x="130" y="165" width="2.2" height="1.7" fill="#9b7fc0" />
<line x1="133.5" y1="165.9" x2="140.5" y2="165.9" stroke="#777" stroke-width="0.6" stroke-dasharray="1.4 0.5"/>
<rect x="130" y="167.25" width="2.2" height="1.7" fill="#4f81bd" />
<line x1="133.5" y1="168.15" x2="142.5" y2="168.15" stroke="#777" stroke-width="0.6" stroke-dasharray="1.4 0.5"/>
<rect x="130" y="169.5" width="2.2" height="1.7" fill="#e08030" />
<line x1="133.5" y1="170.4" x2="138.5" y2="170.4" stroke="#777" stroke-width="0.6" stroke-dasharray="1.4 0.5"/>
<rect x="130" y="171.75" width="2.2" height="1.7" fill="#c0504d" />
<line x1="133.5" y1="172.65" x2="140.5" y2="172.65" stroke="#777" stroke-width="0.6" stroke-dasharray="1.4 0.5"/>
<rect x="130" y="174" width="2.2" height="1.7" fill="#9bbb59" />
<line x1="133.5" y1="174.9" x2="142.5" y2="174.9" stroke="#777" stroke-width="0.6" stroke-dasharray="1.4 0.5"/>
<rect x="130" y="176.25" width="2.2" height="1.7" fill="#444" />
<line x1="133.5" y1="177.15" x2="138.5" y2="177.15" stroke="#777" stroke-width="0.6" stroke-dasharray="1.4 0.5"/>
<rect x="150.3" y="145.7" width="32.9" height="15.1" fill="#ffff99" stroke="#d0d068" stroke-width="0.4" />
<path d="M160.7 145.7 V160.8 M150.3 158.2 H160.7" fill="none" stroke="#b8b860" stroke-width="0.4" />
<line x1="151" y1="147.6" x2="160" y2="147.6" stroke="#666" stroke-width="0.7" />
<line x1="151" y1="149.6" x2="157" y2="149.6" stroke="#666" stroke-width="0.7" />
<line x1="162" y1="147.6" x2="181" y2="147.6" stroke="#666" stroke-width="0.7" />
<rect x="163.2" y="149" width="13.6" height="2.2" fill="#8db4e2" />
<rect x="163.2" y="152.6" width="13.6" height="2.2" fill="#8db4e2" />
<rect x="163.2" y="156" width="13.6" height="2.2" fill="#8db4e2" />
<rect x="160.9" y="161.6" width="48.3" height="13.6" fill="#d6ecf2" />
<rect x="163" y="166" width="7" height="2.4" fill="#ccc0da" />
<rect x="163" y="172" width="7" height="2.4" fill="#ccc0da" />
<rect x="175" y="164.5" width="7" height="2.3" fill="#fff" />
<rect x="175" y="168.3" width="7" height="2.3" fill="#fff" />
<rect x="175" y="172" width="7" height="2.3" fill="#fff" />
<ellipse cx="194.5" cy="164.6" rx="4.2" ry="1.9" fill="#fff"/>
<rect x="191" y="170" width="16.5" height="4.2" fill="#ffff99" />
<path d="M154 161 V174 H163 M158 161 V167.2 H163 M170 167.2 H172.5 V165.6 H175 M172.5 167.2 V173.2 H175 M172.5 169.4 H175 M182 165.6 H186 V164.6 H190 M186 165.6 V172 H191 M143.5 153 H163" fill="none" stroke="#777" stroke-width="0.5" />
</g>
<g transform="translate(576.6 0)">
<path d="M231.1 157.7 H233.8 M233.8 142.2 V179.4 M233.8 142.2 H239.4 M233.8 153.5 H239.4 M233.8 165.2 H239.4 M233.8 172.4 H239.4 M233.8 179.4 H239.4 M259 153.2 H274.8 M269.5 141.5 V176.5 M269.5 141.5 H274.8 M269.5 162.6 H274.8 M269.5 170.1 H274.8 M269.5 176.5 H274.8 M294.3 152.6 H304.6 M299.6 147.4 V157.6 M299.6 147.4 H304.6 M299.6 157.6 H304.6 M294.3 162.7 H304.6 M299.6 162.7 V167.7 H304.6" fill="none" stroke="#10202a" stroke-width="0.9" />
<path d="M248.9 136.6 H334.7 V177.1 H294.3" fill="none" stroke="#10202a" stroke-width="0.9" stroke-dasharray="2.6 1.6"/>
<path d="M245.9 136.3 H251.9 L248.9 140.3 Z" fill="#10202a" />
<rect x="213.8" y="154.5" width="17.3" height="6.4" fill="#fff" stroke="#10202a" stroke-width="0.7" rx="0.6"/>
<line x1="216.8" y1="156.6" x2="228.1" y2="156.6" stroke="#333" stroke-width="1" stroke-dasharray="2.2 0.8"/>
<line x1="219.8" y1="158.9" x2="225.1" y2="158.9" stroke="#333" stroke-width="1" stroke-dasharray="1.8 0.9"/>
<rect x="246.4" y="144.3" width="19.6" height="4.1" fill="#fff" stroke="#10202a" stroke-width="0.7" rx="0.6"/>
<rect x="242.9" y="142.25" width="19.6" height="4.1" fill="#fff" stroke="#10202a" stroke-width="0.7" rx="0.6"/>
<rect x="239.4" y="140.2" width="19.6" height="4.1" fill="#fff" stroke="#10202a" stroke-width="0.7" rx="0.6"/>
<line x1="243" y1="142.2" x2="256" y2="142.2" stroke="#333" stroke-width="1.1" stroke-dasharray="2.2 0.8"/>
<rect x="244.4" y="155.7" width="19.6" height="3.7" fill="#fff" stroke="#10202a" stroke-width="0.7" rx="0.6"/>
<rect x="241.9" y="153.65" width="19.6" height="3.7" fill="#fff" stroke="#10202a" stroke-width="0.7" rx="0.6"/>
<rect x="239.4" y="151.6" width="19.6" height="3.7" fill="#fff" stroke="#10202a" stroke-width="0.7" rx="0.6"/>
<line x1="246" y1="153.5" x2="252" y2="153.5" stroke="#333" stroke-width="1.1" stroke-dasharray="2.2 0.8"/>
<rect x="239.4" y="162" width="24.8" height="6.4" fill="#fff" stroke="#10202a" stroke-width="0.7" rx="0.6"/>
<line x1="242.4" y1="164.1" x2="261.2" y2="164.1" stroke="#333" stroke-width="1" stroke-dasharray="2.2 0.8"/>
<line x1="245.4" y1="166.4" x2="258.2" y2="166.4" stroke="#333" stroke-width="1" stroke-dasharray="1.8 0.9"/>
<rect x="239.4" y="169.6" width="24.8" height="5.6" fill="#fff" stroke="#10202a" stroke-width="0.7" rx="0.6"/>
<line x1="242.4" y1="171.3" x2="261.2" y2="171.3" stroke="#333" stroke-width="1" stroke-dasharray="2.2 0.8"/>
<line x1="245.4" y1="173.6" x2="258.2" y2="173.6" stroke="#333" stroke-width="1" stroke-dasharray="1.8 0.9"/>
<rect x="239.4" y="176.4" width="24.8" height="6" fill="#fff" stroke="#10202a" stroke-width="0.7" rx="0.6"/>
<line x1="242.4" y1="178.3" x2="261.2" y2="178.3" stroke="#333" stroke-width="1" stroke-dasharray="2.2 0.8"/>
<line x1="245.4" y1="180.6" x2="258.2" y2="180.6" stroke="#333" stroke-width="1" stroke-dasharray="1.8 0.9"/>
<rect x="274.8" y="139.5" width="19.5" height="4.1" fill="#fff" stroke="#10202a" stroke-width="0.7" rx="0.6"/>
<line x1="278.8" y1="141.55" x2="290.3" y2="141.55" stroke="#333" stroke-width="1.1" stroke-dasharray="2.2 0.8"/>
<rect x="274.8" y="150.8" width="19.5" height="3.7" fill="#fff" stroke="#10202a" stroke-width="0.7" rx="0.6"/>
<line x1="278.8" y1="152.65" x2="290.3" y2="152.65" stroke="#333" stroke-width="1.1" stroke-dasharray="2.2 0.8"/>
<rect x="274.8" y="160.6" width="19.5" height="4" fill="#fff" stroke="#10202a" stroke-width="0.7" rx="0.6"/>
<line x1="278.8" y1="162.6" x2="290.3" y2="162.6" stroke="#333" stroke-width="1.1" stroke-dasharray="2.2 0.8"/>
<rect x="274.8" y="168.1" width="19.5" height="4.1" fill="#fff" stroke="#10202a" stroke-width="0.7" rx="0.6"/>
<line x1="278.8" y1="170.15" x2="290.3" y2="170.15" stroke="#333" stroke-width="1.1" stroke-dasharray="2.2 0.8"/>
<rect x="274.8" y="173.4" width="19.5" height="6.3" fill="#fff" stroke="#10202a" stroke-width="0.7" rx="0.6"/>
<line x1="277.8" y1="175.45" x2="291.3" y2="175.45" stroke="#333" stroke-width="1" stroke-dasharray="2.2 0.8"/>
<line x1="280.8" y1="177.75" x2="288.3" y2="177.75" stroke="#333" stroke-width="1" stroke-dasharray="1.8 0.9"/>
<rect x="304.6" y="145.5" width="17.6" height="3.8" fill="#fff" stroke="#10202a" stroke-width="0.7" rx="0.6"/>
<line x1="308.6" y1="147.4" x2="318.2" y2="147.4" stroke="#333" stroke-width="1.1" stroke-dasharray="2.2 0.8"/>
<rect x="304.6" y="150.6" width="17.6" height="3.9" fill="#fff" stroke="#10202a" stroke-width="0.7" rx="0.6"/>
<line x1="308.6" y1="152.55" x2="318.2" y2="152.55" stroke="#333" stroke-width="1.1" stroke-dasharray="2.2 0.8"/>
<rect x="304.6" y="155.9" width="17.6" height="3.5" fill="#fff" stroke="#10202a" stroke-width="0.7" rx="0.6"/>
<line x1="308.6" y1="157.65" x2="318.2" y2="157.65" stroke="#333" stroke-width="1.1" stroke-dasharray="2.2 0.8"/>
<rect x="304.6" y="160.9" width="26.6" height="3.7" fill="#fff" stroke="#10202a" stroke-width="0.7" rx="0.6"/>
<line x1="308.6" y1="162.75" x2="327.2" y2="162.75" stroke="#333" stroke-width="1.1" stroke-dasharray="2.2 0.8"/>
<rect x="304.6" y="165.8" width="17.6" height="3.8" fill="#fff" stroke="#10202a" stroke-width="0.7" rx="0.6"/>
<line x1="308.6" y1="167.7" x2="318.2" y2="167.7" stroke="#333" stroke-width="1.1" stroke-dasharray="2.2 0.8"/>
</g>
<path d="M356.6 152.05 L361.8 144.3 V147.94 H382.7 V144.3 L387.9 152.05 L382.7 159.8 V156.16 H361.8 V159.8 Z" fill="#dae0c8" stroke="#3a3a3a" stroke-width="1.1" stroke-linejoin="miter"/>
<path d="M647.4 153.1 L652.6 145.3 V148.97 H673.6 V145.3 L678.8 153.1 L673.6 160.9 V157.23 H652.6 V160.9 Z" fill="#dae0c8" stroke="#3a3a3a" stroke-width="1.1" stroke-linejoin="miter"/>
<rect x="106" y="219.2" width="82.3" height="38.1" fill="#92cddc" stroke="#dbe5c0" stroke-width="0.9" />
<rect x="207.1" y="219.2" width="83.3" height="38.1" fill="#92cddc" stroke="#dbe5c0" stroke-width="0.9" />
<rect x="308" y="219.2" width="83" height="38.1" fill="#92cddc" stroke="#dbe5c0" stroke-width="0.9" />
<rect x="408.8" y="219.2" width="114" height="38.1" fill="#92cddc" stroke="#dbe5c0" stroke-width="0.9" />
<rect x="542" y="219.2" width="82.5" height="38.1" fill="#92cddc" stroke="#dbe5c0" stroke-width="0.9" />
<rect x="642" y="219.2" width="82.2" height="38.1" fill="#92cddc" stroke="#dbe5c0" stroke-width="0.9" />
<rect x="745.5" y="219.2" width="82.1" height="38.1" fill="#92cddc" stroke="#dbe5c0" stroke-width="0.9" />
<rect x="842.7" y="219.2" width="81.8" height="38.1" fill="#92cddc" stroke="#dbe5c0" stroke-width="0.9" />
<path d="M188.3 238.2 L192.6 230.5 V234.81 H203.3 V230.5 L207.6 238.2 L203.3 245.9 V241.59 H192.6 V245.9 Z" fill="#dae0c8" stroke="#3a3a3a" stroke-width="1.15" stroke-linejoin="miter"/>
<path d="M289.8 238.2 L294.1 230.5 V234.81 H304.9 V230.5 L309.2 238.2 L304.9 245.9 V241.59 H294.1 V245.9 Z" fill="#dae0c8" stroke="#3a3a3a" stroke-width="1.15" stroke-linejoin="miter"/>
<path d="M390.6 238.2 L394.9 230.5 V234.81 H405.3 V230.5 L409.6 238.2 L405.3 245.9 V241.59 H394.9 V245.9 Z" fill="#dae0c8" stroke="#3a3a3a" stroke-width="1.15" stroke-linejoin="miter"/>
<path d="M522.2 238.2 L526.5 230.5 V234.81 H538.3 V230.5 L542.6 238.2 L538.3 245.9 V241.59 H526.5 V245.9 Z" fill="#dae0c8" stroke="#3a3a3a" stroke-width="1.15" stroke-linejoin="miter"/>
<path d="M624 238.2 L628.3 230.5 V234.81 H638.3 V230.5 L642.6 238.2 L638.3 245.9 V241.59 H628.3 V245.9 Z" fill="#dae0c8" stroke="#3a3a3a" stroke-width="1.15" stroke-linejoin="miter"/>
<path d="M723.6 238.2 L727.9 230.5 V234.81 H741.7 V230.5 L746 238.2 L741.7 245.9 V241.59 H727.9 V245.9 Z" fill="#dae0c8" stroke="#3a3a3a" stroke-width="1.15" stroke-linejoin="miter"/>
<path d="M827 238.2 L831.3 230.5 V234.81 H838.9 V230.5 L843.2 238.2 L838.9 245.9 V241.59 H831.3 V245.9 Z" fill="#dae0c8" stroke="#3a3a3a" stroke-width="1.15" stroke-linejoin="miter"/>
<path d="M51.2 228.3 L74.45 251.7 H64.95 V267.2 H74.45 L51.2 290.6 L27.95 267.2 H37.45 V251.7 H27.95 Z" fill="#ffff00" stroke="#ffc000" stroke-width="2" stroke-linejoin="miter"/>
<path d="M52.5 349 L62.5 359.2 H57.3 V385.4 H62.5 L52.5 395.6 L42.5 385.4 H47.7 V359.2 H42.5 Z" fill="#ffff00" stroke="#ffc000" stroke-width="1.6" stroke-linejoin="miter"/>
<path d="M52.5 438.2 L62.5 448.4 H57.3 V455 H62.5 L52.5 465.2 L42.5 455 H47.7 V448.4 H42.5 Z" fill="#ffff00" stroke="#ffc000" stroke-width="1.6" stroke-linejoin="miter"/>
<path d="M198 332.35 H220.4 V329.5 L226 336.62 L220.4 343.75 V340.9 H198 Z" fill="#c3d69b" />
<path d="M300 332.35 H321.4 V329.5 L327 336.62 L321.4 343.75 V340.9 H300 Z" fill="#c3d69b" />
<path d="M397.5 332.35 H419.4 V329.5 L425 336.62 L419.4 343.75 V340.9 H397.5 Z" fill="#c3d69b" />
<path d="M523 332.45 H545.65 V329.5 L551.25 336.88 L545.65 344.25 V341.3 H523 Z" fill="#c3d69b" />
<path d="M628.75 331.75 H651.4 V328.75 L657 336.25 L651.4 343.75 V340.75 H628.75 Z" fill="#c3d69b" />
<path d="M733.75 332.15 H756.15 V329.25 L761.75 336.5 L756.15 343.75 V340.85 H733.75 Z" fill="#c3d69b" />
<path d="M831 328 H853.15 V325 L858.75 332.5 L853.15 340 V337 H831 Z" fill="#c3d69b" />
<path d="M226 380.2 H204.35 V377.5 L198.75 384.25 L204.35 391 V388.3 H226 Z" fill="#ffd966" />
<path d="M328 380.2 H305.6 V377.5 L300 384.25 L305.6 391 V388.3 H328 Z" fill="#ffd966" />
<path d="M427 380.2 H404.35 V377.5 L398.75 384.25 L404.35 391 V388.3 H427 Z" fill="#ffd966" />
<path d="M546.25 382.9 H524.35 V380 L518.75 387.25 L524.35 394.5 V391.6 H546.25 Z" fill="#ffd966" />
<path d="M651.75 380.35 H629.35 V377.5 L623.75 384.62 L629.35 391.75 V388.9 H651.75 Z" fill="#ffd966" />
<path d="M752.25 380.25 H730.35 V377.5 L724.75 384.38 L730.35 391.25 V388.5 H752.25 Z" fill="#ffd966" />
<path d="M861.75 385.1 H839.85 V382.5 L834.25 389 L839.85 395.5 V392.9 H861.75 Z" fill="#ffd966" />
<line x1="126.9" y1="295.7" x2="126.9" y2="372" stroke="#333" stroke-width="1.15" />
<line x1="126.9" y1="303" x2="139.3" y2="303" stroke="#333" stroke-width="1.15" />
<line x1="126.9" y1="314.65" x2="139.3" y2="314.65" stroke="#333" stroke-width="1.15" />
<line x1="126.9" y1="348.75" x2="139.3" y2="348.75" stroke="#333" stroke-width="1.15" />
<line x1="126.9" y1="372" x2="138" y2="372" stroke="#333" stroke-width="1.15" />
<line x1="154.3" y1="318.6" x2="154.3" y2="337.5" stroke="#333" stroke-width="1.15" />
<line x1="154.3" y1="325.65" x2="158.9" y2="325.65" stroke="#333" stroke-width="1.15" />
<line x1="154.3" y1="337.5" x2="158.9" y2="337.5" stroke="#333" stroke-width="1.15" />
<line x1="154.3" y1="352.5" x2="154.3" y2="360.5" stroke="#333" stroke-width="1.15" />
<line x1="154.3" y1="360.5" x2="159.2" y2="360.5" stroke="#333" stroke-width="1.15" />
<line x1="153.2" y1="375.8" x2="153.2" y2="410.1" stroke="#333" stroke-width="1.15" />
<line x1="153.2" y1="385" x2="158.2" y2="385" stroke="#333" stroke-width="1.15" />
<line x1="153.2" y1="396.6" x2="158.5" y2="396.6" stroke="#333" stroke-width="1.15" />
<line x1="153.2" y1="410.1" x2="158.5" y2="410.1" stroke="#333" stroke-width="1.15" />
<line x1="226.4" y1="295.7" x2="226.4" y2="372" stroke="#333" stroke-width="1.15" />
<line x1="226.4" y1="303" x2="238.8" y2="303" stroke="#333" stroke-width="1.15" />
<line x1="226.4" y1="314.65" x2="238.8" y2="314.65" stroke="#333" stroke-width="1.15" />
<line x1="226.4" y1="348.75" x2="238.8" y2="348.75" stroke="#333" stroke-width="1.15" />
<line x1="226.4" y1="372" x2="237.5" y2="372" stroke="#333" stroke-width="1.15" />
<line x1="253.8" y1="318.6" x2="253.8" y2="337.5" stroke="#333" stroke-width="1.15" />
<line x1="253.8" y1="325.65" x2="258.4" y2="325.65" stroke="#333" stroke-width="1.15" />
<line x1="253.8" y1="337.5" x2="258.4" y2="337.5" stroke="#333" stroke-width="1.15" />
<line x1="253.8" y1="352.5" x2="253.8" y2="360.5" stroke="#333" stroke-width="1.15" />
<line x1="253.8" y1="360.5" x2="258.7" y2="360.5" stroke="#333" stroke-width="1.15" />
<line x1="252.7" y1="375.8" x2="252.7" y2="410.1" stroke="#333" stroke-width="1.15" />
<line x1="252.7" y1="385" x2="257.7" y2="385" stroke="#333" stroke-width="1.15" />
<line x1="252.7" y1="396.6" x2="258" y2="396.6" stroke="#333" stroke-width="1.15" />
<line x1="252.7" y1="410.1" x2="258" y2="410.1" stroke="#333" stroke-width="1.15" />
<line x1="327" y1="295.5" x2="327" y2="348.75" stroke="#333" stroke-width="1.15" />
<line x1="327" y1="303.5" x2="339.25" y2="303.5" stroke="#333" stroke-width="1.15" />
<line x1="327" y1="314.38" x2="339.25" y2="314.38" stroke="#333" stroke-width="1.15" />
<line x1="327" y1="348.75" x2="339.25" y2="348.75" stroke="#333" stroke-width="1.15" />
<line x1="354" y1="318" x2="354" y2="337.5" stroke="#333" stroke-width="1.15" />
<line x1="354" y1="325.75" x2="359.25" y2="325.75" stroke="#333" stroke-width="1.15" />
<line x1="354" y1="337.5" x2="359.25" y2="337.5" stroke="#333" stroke-width="1.15" />
<line x1="353.8" y1="352.5" x2="353.8" y2="413.5" stroke="#333" stroke-width="1.15" />
<line x1="353.8" y1="362.5" x2="359.25" y2="362.5" stroke="#333" stroke-width="1.15" />
<line x1="353.8" y1="375.5" x2="359.25" y2="375.5" stroke="#333" stroke-width="1.15" />
<line x1="353.8" y1="387.25" x2="359.25" y2="387.25" stroke="#333" stroke-width="1.15" />
<line x1="353.8" y1="400.25" x2="359.25" y2="400.25" stroke="#333" stroke-width="1.15" />
<line x1="353.8" y1="413.5" x2="359.25" y2="413.5" stroke="#333" stroke-width="1.15" />
<line x1="423.25" y1="295.5" x2="423.25" y2="372.25" stroke="#333" stroke-width="1.15" />
<line x1="423.25" y1="303.5" x2="435.5" y2="303.5" stroke="#333" stroke-width="1.15" />
<line x1="423.25" y1="314.38" x2="435.5" y2="314.38" stroke="#333" stroke-width="1.15" />
<line x1="423.25" y1="372.25" x2="435" y2="372.25" stroke="#333" stroke-width="1.15" />
<line x1="450.75" y1="318" x2="450.75" y2="337.5" stroke="#333" stroke-width="1.15" />
<line x1="450.75" y1="325.75" x2="455.5" y2="325.75" stroke="#333" stroke-width="1.15" />
<line x1="450.75" y1="337.5" x2="455.5" y2="337.5" stroke="#333" stroke-width="1.15" />
<line x1="471.25" y1="341.25" x2="471.25" y2="348.75" stroke="#333" stroke-width="1.15" />
<line x1="471.25" y1="348.75" x2="474.25" y2="348.75" stroke="#333" stroke-width="1.15" />
<line x1="490" y1="352.5" x2="490" y2="371.75" stroke="#333" stroke-width="1.15" />
<line x1="490" y1="360.5" x2="498.75" y2="360.5" stroke="#333" stroke-width="1.15" />
<line x1="490" y1="371.75" x2="498.75" y2="371.75" stroke="#333" stroke-width="1.15" />
<line x1="450" y1="376.25" x2="450" y2="410.12" stroke="#333" stroke-width="1.15" />
<line x1="450" y1="385" x2="456.25" y2="385" stroke="#333" stroke-width="1.15" />
<line x1="450" y1="396.75" x2="456.25" y2="396.75" stroke="#333" stroke-width="1.15" />
<line x1="450" y1="410.12" x2="456.25" y2="410.12" stroke="#333" stroke-width="1.15" />
<line x1="557" y1="294.5" x2="557" y2="313.75" stroke="#333" stroke-width="1.15" />
<line x1="557" y1="302.5" x2="569.25" y2="302.5" stroke="#333" stroke-width="1.15" />
<line x1="557" y1="313.75" x2="569.25" y2="313.75" stroke="#333" stroke-width="1.15" />
<line x1="583.75" y1="317.5" x2="583.75" y2="359.75" stroke="#333" stroke-width="1.15" />
<line x1="583.75" y1="325.5" x2="588.75" y2="325.5" stroke="#333" stroke-width="1.15" />
<line x1="583.75" y1="336.75" x2="588.75" y2="336.75" stroke="#333" stroke-width="1.15" />
<line x1="583.75" y1="348" x2="588.75" y2="348" stroke="#333" stroke-width="1.15" />
<line x1="583.75" y1="359.75" x2="588.75" y2="359.75" stroke="#333" stroke-width="1.15" />
<line x1="557" y1="365" x2="557" y2="384.25" stroke="#333" stroke-width="1.15" />
<line x1="557" y1="373" x2="569.5" y2="373" stroke="#333" stroke-width="1.15" />
<line x1="557" y1="384.25" x2="569.5" y2="384.25" stroke="#333" stroke-width="1.15" />
<line x1="585" y1="388" x2="585" y2="414.5" stroke="#333" stroke-width="1.15" />
<line x1="585" y1="395.5" x2="589.5" y2="395.5" stroke="#333" stroke-width="1.15" />
<line x1="585" y1="405.25" x2="589.5" y2="405.25" stroke="#333" stroke-width="1.15" />
<line x1="585" y1="414.5" x2="589.5" y2="414.5" stroke="#333" stroke-width="1.15" />
<line x1="661.25" y1="295.75" x2="661.25" y2="315" stroke="#333" stroke-width="1.15" />
<line x1="661.25" y1="303.75" x2="673.25" y2="303.75" stroke="#333" stroke-width="1.15" />
<line x1="661.25" y1="315" x2="673.25" y2="315" stroke="#333" stroke-width="1.15" />
<line x1="688.25" y1="318.75" x2="688.25" y2="357.5" stroke="#333" stroke-width="1.15" />
<line x1="688.25" y1="326.62" x2="693.75" y2="326.62" stroke="#333" stroke-width="1.15" />
<line x1="688.25" y1="338.25" x2="693.75" y2="338.25" stroke="#333" stroke-width="1.15" />
<line x1="688.25" y1="348.12" x2="693.75" y2="348.12" stroke="#333" stroke-width="1.15" />
<line x1="688.25" y1="357.5" x2="693.75" y2="357.5" stroke="#333" stroke-width="1.15" />
<line x1="661.25" y1="366.25" x2="661.25" y2="385.5" stroke="#333" stroke-width="1.15" />
<line x1="661.25" y1="374.25" x2="673.75" y2="374.25" stroke="#333" stroke-width="1.15" />
<line x1="661.25" y1="385.5" x2="673.75" y2="385.5" stroke="#333" stroke-width="1.15" />
<line x1="689.25" y1="389.25" x2="689.25" y2="414.5" stroke="#333" stroke-width="1.15" />
<line x1="689.25" y1="395.5" x2="694.5" y2="395.5" stroke="#333" stroke-width="1.15" />
<line x1="689.25" y1="405.25" x2="694.5" y2="405.25" stroke="#333" stroke-width="1.15" />
<line x1="689.25" y1="414.5" x2="694.5" y2="414.5" stroke="#333" stroke-width="1.15" />
<line x1="768" y1="295.5" x2="768" y2="342" stroke="#333" stroke-width="1.15" />
<line x1="768" y1="303.25" x2="780" y2="303.25" stroke="#333" stroke-width="1.15" />
<line x1="768" y1="314.5" x2="780" y2="314.5" stroke="#333" stroke-width="1.15" />
<line x1="768" y1="342" x2="780" y2="342" stroke="#333" stroke-width="1.15" />
<line x1="796.25" y1="318.25" x2="796.25" y2="332.5" stroke="#333" stroke-width="1.15" />
<line x1="796.25" y1="323" x2="800" y2="323" stroke="#333" stroke-width="1.15" />
<line x1="796.25" y1="332.5" x2="800" y2="332.5" stroke="#333" stroke-width="1.15" />
<line x1="794.25" y1="345.75" x2="794.25" y2="351.75" stroke="#333" stroke-width="1.15" />
<line x1="794.25" y1="351.75" x2="800" y2="351.75" stroke="#333" stroke-width="1.15" />
<line x1="768.75" y1="360" x2="768.75" y2="406.75" stroke="#333" stroke-width="1.15" />
<line x1="768.75" y1="367.75" x2="780.5" y2="367.75" stroke="#333" stroke-width="1.15" />
<line x1="768.75" y1="379" x2="780.5" y2="379" stroke="#333" stroke-width="1.15" />
<line x1="768.75" y1="406.75" x2="780.5" y2="406.75" stroke="#333" stroke-width="1.15" />
<line x1="794.9" y1="383" x2="794.9" y2="396.75" stroke="#333" stroke-width="1.15" />
<line x1="794.9" y1="387.5" x2="800.5" y2="387.5" stroke="#333" stroke-width="1.15" />
<line x1="794.9" y1="396.75" x2="800.5" y2="396.75" stroke="#333" stroke-width="1.15" />
<line x1="794.25" y1="410.5" x2="794.25" y2="418.88" stroke="#333" stroke-width="1.15" />
<line x1="794.25" y1="418.88" x2="800.5" y2="418.88" stroke="#333" stroke-width="1.15" />
<line x1="858.75" y1="296.75" x2="858.75" y2="381.5" stroke="#333" stroke-width="1.15" />
<line x1="858.75" y1="304.38" x2="871.75" y2="304.38" stroke="#333" stroke-width="1.15" />
<line x1="858.75" y1="315.88" x2="871.75" y2="315.88" stroke="#333" stroke-width="1.15" />
<line x1="858.75" y1="348" x2="871.75" y2="348" stroke="#333" stroke-width="1.15" />
<line x1="858.75" y1="357.25" x2="871.75" y2="357.25" stroke="#333" stroke-width="1.15" />
<line x1="858.75" y1="367" x2="871.75" y2="367" stroke="#333" stroke-width="1.15" />
<line x1="858.75" y1="381.5" x2="873" y2="381.5" stroke="#333" stroke-width="1.15" />
<line x1="886.75" y1="320" x2="886.75" y2="338.75" stroke="#333" stroke-width="1.15" />
<line x1="886.75" y1="327.5" x2="891.75" y2="327.5" stroke="#333" stroke-width="1.15" />
<line x1="886.75" y1="338.75" x2="891.75" y2="338.75" stroke="#333" stroke-width="1.15" />
<line x1="889.25" y1="385.5" x2="889.25" y2="410.75" stroke="#333" stroke-width="1.15" />
<line x1="889.25" y1="391.25" x2="892" y2="391.25" stroke="#333" stroke-width="1.15" />
<line x1="889.25" y1="401.25" x2="892" y2="401.25" stroke="#333" stroke-width="1.15" />
<line x1="889.25" y1="410.75" x2="892" y2="410.75" stroke="#333" stroke-width="1.15" />
<rect x="111.5" y="287.2" width="30.4" height="8.5" fill="#31859c" stroke="#17323c" stroke-width="1.1" />
<rect x="139.3" y="299.2" width="30.3" height="7.6" fill="#31859c" stroke="#17323c" stroke-width="1.1" />
<rect x="139.3" y="310.7" width="30.3" height="7.9" fill="#31859c" stroke="#17323c" stroke-width="1.1" />
<rect x="139.3" y="345" width="30.3" height="7.5" fill="#31859c" stroke="#17323c" stroke-width="1.1" />
<rect x="138" y="368.2" width="30" height="7.6" fill="#31859c" stroke="#17323c" stroke-width="1.1" />
<rect x="158.9" y="321.6" width="30.3" height="8.1" fill="#31859c" stroke="#17323c" stroke-width="1.1" />
<rect x="158.9" y="333.6" width="30.3" height="7.8" fill="#31859c" stroke="#17323c" stroke-width="1.1" />
<rect x="159.2" y="356.7" width="30" height="7.6" fill="#31859c" stroke="#17323c" stroke-width="1.1" />
<rect x="158.2" y="381.2" width="30.6" height="7.6" fill="#31859c" stroke="#17323c" stroke-width="1.1" />
<rect x="158.5" y="393" width="30.5" height="7.2" fill="#31859c" stroke="#17323c" stroke-width="1.1" />
<rect x="158.5" y="406" width="30.5" height="8.2" fill="#31859c" stroke="#17323c" stroke-width="1.1" />
<rect x="211" y="287.2" width="30.4" height="8.5" fill="#31859c" stroke="#17323c" stroke-width="1.1" />
<rect x="238.8" y="299.2" width="30.3" height="7.6" fill="#31859c" stroke="#17323c" stroke-width="1.1" />
<rect x="238.8" y="310.7" width="30.3" height="7.9" fill="#31859c" stroke="#17323c" stroke-width="1.1" />
<rect x="238.8" y="345" width="30.3" height="7.5" fill="#31859c" stroke="#17323c" stroke-width="1.1" />
<rect x="237.5" y="368.2" width="30" height="7.6" fill="#31859c" stroke="#17323c" stroke-width="1.1" />
<rect x="258.4" y="321.6" width="30.3" height="8.1" fill="#31859c" stroke="#17323c" stroke-width="1.1" />
<rect x="258.4" y="333.6" width="30.3" height="7.8" fill="#31859c" stroke="#17323c" stroke-width="1.1" />
<rect x="258.7" y="356.7" width="30" height="7.6" fill="#31859c" stroke="#17323c" stroke-width="1.1" />
<rect x="257.7" y="381.2" width="30.6" height="7.6" fill="#31859c" stroke="#17323c" stroke-width="1.1" />
<rect x="258" y="393" width="30.5" height="7.2" fill="#31859c" stroke="#17323c" stroke-width="1.1" />
<rect x="258" y="406" width="30.5" height="8.2" fill="#31859c" stroke="#17323c" stroke-width="1.1" />
<rect x="311.75" y="287.5" width="30.25" height="8" fill="#31859c" stroke="#17323c" stroke-width="1.1" />
<rect x="339.25" y="300" width="30" height="7" fill="#31859c" stroke="#17323c" stroke-width="1.1" />
<rect x="339.25" y="310.75" width="30" height="7.25" fill="#31859c" stroke="#17323c" stroke-width="1.1" />
<rect x="339.25" y="345" width="30" height="7.5" fill="#31859c" stroke="#17323c" stroke-width="1.1" />
<rect x="359.25" y="322" width="30" height="7.5" fill="#31859c" stroke="#17323c" stroke-width="1.1" />
<rect x="359.25" y="333.75" width="30" height="7.5" fill="#31859c" stroke="#17323c" stroke-width="1.1" />
<rect x="359.25" y="358.75" width="30" height="7.5" fill="#31859c" stroke="#17323c" stroke-width="1.1" />
<rect x="359.25" y="371.75" width="30" height="7.5" fill="#31859c" stroke="#17323c" stroke-width="1.1" />
<rect x="359.25" y="383.5" width="30" height="7.5" fill="#31859c" stroke="#17323c" stroke-width="1.1" />
<rect x="359.25" y="396.25" width="30" height="8" fill="#31859c" stroke="#17323c" stroke-width="1.1" />
<rect x="359.25" y="409.75" width="30" height="7.5" fill="#31859c" stroke="#17323c" stroke-width="1.1" />
<rect x="408" y="287.5" width="30.75" height="8" fill="#31859c" stroke="#17323c" stroke-width="1.1" />
<rect x="435.5" y="300" width="30" height="7" fill="#31859c" stroke="#17323c" stroke-width="1.1" />
<rect x="435.5" y="310.75" width="30" height="7.25" fill="#31859c" stroke="#17323c" stroke-width="1.1" />
<rect x="435" y="368.25" width="30" height="8" fill="#31859c" stroke="#17323c" stroke-width="1.1" />
<rect x="455.5" y="322" width="30.25" height="7.5" fill="#31859c" stroke="#17323c" stroke-width="1.1" />
<rect x="455.5" y="333.75" width="30.25" height="7.5" fill="#31859c" stroke="#17323c" stroke-width="1.1" />
<rect x="474.25" y="345" width="30.75" height="7.5" fill="#31859c" stroke="#17323c" stroke-width="1.1" />
<rect x="498.75" y="356.75" width="30.5" height="7.5" fill="#31859c" stroke="#17323c" stroke-width="1.1" />
<rect x="498.75" y="368" width="30.5" height="7.5" fill="#31859c" stroke="#17323c" stroke-width="1.1" />
<rect x="456.25" y="381.25" width="29.25" height="7.5" fill="#31859c" stroke="#17323c" stroke-width="1.1" />
<rect x="456.25" y="393" width="29.25" height="7.5" fill="#31859c" stroke="#17323c" stroke-width="1.1" />
<rect x="456.25" y="406" width="29.25" height="8.25" fill="#31859c" stroke="#17323c" stroke-width="1.1" />
<rect x="541.25" y="287" width="30.5" height="7.5" fill="#31859c" stroke="#17323c" stroke-width="1.1" />
<rect x="569.25" y="298.75" width="30" height="7.5" fill="#31859c" stroke="#17323c" stroke-width="1.1" />
<rect x="569.25" y="310" width="30" height="7.5" fill="#31859c" stroke="#17323c" stroke-width="1.1" />
<rect x="588.75" y="321.75" width="30" height="7.5" fill="#31859c" stroke="#17323c" stroke-width="1.1" />
<rect x="588.75" y="333" width="30" height="7.5" fill="#31859c" stroke="#17323c" stroke-width="1.1" />
<rect x="588.75" y="344.25" width="30" height="7.5" fill="#31859c" stroke="#17323c" stroke-width="1.1" />
<rect x="588.75" y="355.75" width="30" height="8" fill="#31859c" stroke="#17323c" stroke-width="1.1" />
<rect x="542" y="357.5" width="30.5" height="7.5" fill="#31859c" stroke="#17323c" stroke-width="1.1" />
<rect x="569.5" y="369.25" width="30.5" height="7.5" fill="#31859c" stroke="#17323c" stroke-width="1.1" />
<rect x="569.5" y="380.5" width="30.5" height="7.5" fill="#31859c" stroke="#17323c" stroke-width="1.1" />
<rect x="589.5" y="391.75" width="30.5" height="7.5" fill="#31859c" stroke="#17323c" stroke-width="1.1" />
<rect x="589.5" y="401.75" width="30.5" height="7" fill="#31859c" stroke="#17323c" stroke-width="1.1" />
<rect x="589.5" y="411" width="30.5" height="7" fill="#31859c" stroke="#17323c" stroke-width="1.1" />
<rect x="645.5" y="288.25" width="30.75" height="7.5" fill="#31859c" stroke="#17323c" stroke-width="1.1" />
<rect x="673.25" y="300" width="30" height="7.5" fill="#31859c" stroke="#17323c" stroke-width="1.1" />
<rect x="673.25" y="311.25" width="30" height="7.5" fill="#31859c" stroke="#17323c" stroke-width="1.1" />
<rect x="693.75" y="322.5" width="30" height="8.25" fill="#31859c" stroke="#17323c" stroke-width="1.1" />
<rect x="693.75" y="334.5" width="30" height="7.5" fill="#31859c" stroke="#17323c" stroke-width="1.1" />
<rect x="693.75" y="344.5" width="30" height="7.25" fill="#31859c" stroke="#17323c" stroke-width="1.1" />
<rect x="693.75" y="353.75" width="30" height="7.5" fill="#31859c" stroke="#17323c" stroke-width="1.1" />
<rect x="646.75" y="358.75" width="30.25" height="7.5" fill="#31859c" stroke="#17323c" stroke-width="1.1" />
<rect x="673.75" y="370.5" width="31.25" height="7.5" fill="#31859c" stroke="#17323c" stroke-width="1.1" />
<rect x="673.75" y="381.75" width="31.25" height="7.5" fill="#31859c" stroke="#17323c" stroke-width="1.1" />
<rect x="694.5" y="391.75" width="30.5" height="7.5" fill="#31859c" stroke="#17323c" stroke-width="1.1" />
<rect x="694.5" y="401.75" width="30.5" height="7" fill="#31859c" stroke="#17323c" stroke-width="1.1" />
<rect x="694.5" y="411" width="30.5" height="7" fill="#31859c" stroke="#17323c" stroke-width="1.1" />
<rect x="752.25" y="287.5" width="30.75" height="8" fill="#31859c" stroke="#17323c" stroke-width="1.1" />
<rect x="780" y="299.5" width="30" height="7.5" fill="#31859c" stroke="#17323c" stroke-width="1.1" />
<rect x="780" y="310.75" width="30" height="7.5" fill="#31859c" stroke="#17323c" stroke-width="1.1" />
<rect x="780" y="338.25" width="30" height="7.5" fill="#31859c" stroke="#17323c" stroke-width="1.1" />
<rect x="800" y="319.25" width="30.5" height="7.5" fill="#31859c" stroke="#17323c" stroke-width="1.1" />
<rect x="800" y="328.75" width="30.5" height="7.5" fill="#31859c" stroke="#17323c" stroke-width="1.1" />
<rect x="800" y="348" width="30.5" height="7.5" fill="#31859c" stroke="#17323c" stroke-width="1.1" />
<rect x="753" y="352.5" width="30.75" height="7.5" fill="#31859c" stroke="#17323c" stroke-width="1.1" />
<rect x="780.5" y="363.75" width="30.5" height="8" fill="#31859c" stroke="#17323c" stroke-width="1.1" />
<rect x="780.5" y="375" width="30.5" height="8" fill="#31859c" stroke="#17323c" stroke-width="1.1" />
<rect x="780.5" y="403" width="30.5" height="7.5" fill="#31859c" stroke="#17323c" stroke-width="1.1" />
<rect x="800.5" y="383.75" width="30" height="7.5" fill="#31859c" stroke="#17323c" stroke-width="1.1" />
<rect x="800.5" y="393" width="30" height="7.5" fill="#31859c" stroke="#17323c" stroke-width="1.1" />
<rect x="800.5" y="414.75" width="30" height="8.25" fill="#31859c" stroke="#17323c" stroke-width="1.1" />
<rect x="844.25" y="288.75" width="30" height="8" fill="#31859c" stroke="#17323c" stroke-width="1.1" />
<rect x="871.75" y="300.5" width="30.5" height="7.75" fill="#31859c" stroke="#17323c" stroke-width="1.1" />
<rect x="871.75" y="311.75" width="30.5" height="8.25" fill="#31859c" stroke="#17323c" stroke-width="1.1" />
<rect x="871.75" y="344.25" width="30.5" height="7.5" fill="#31859c" stroke="#17323c" stroke-width="1.1" />
<rect x="871.75" y="353.25" width="30.5" height="8" fill="#31859c" stroke="#17323c" stroke-width="1.1" />
<rect x="871.75" y="363.25" width="30.5" height="7.5" fill="#31859c" stroke="#17323c" stroke-width="1.1" />
<rect x="873" y="377.5" width="30" height="8" fill="#31859c" stroke="#17323c" stroke-width="1.1" />
<rect x="891.75" y="323.75" width="30" height="7.5" fill="#31859c" stroke="#17323c" stroke-width="1.1" />
<rect x="891.75" y="335" width="30" height="7.5" fill="#31859c" stroke="#17323c" stroke-width="1.1" />
<rect x="892" y="387.5" width="30" height="7.5" fill="#31859c" stroke="#17323c" stroke-width="1.1" />
<rect x="892" y="397.5" width="30" height="7.5" fill="#31859c" stroke="#17323c" stroke-width="1.1" />
<rect x="892" y="406.75" width="30" height="8" fill="#31859c" stroke="#17323c" stroke-width="1.1" />
<path d="M150.2 423.4 L159.9 432.6 H156.4 V439.1 H159.9 L150.2 448.3 L140.5 439.1 H144 V432.6 H140.5 Z" fill="#77933c" stroke="#2f3c16" stroke-width="1.1" stroke-linejoin="miter"/>
<rect x="147.2" y="430.6" width="6" height="10" fill="#f4f4f0" />
<line x1="148.6" y1="432.6" x2="151.8" y2="432.6" stroke="#9a9a8a" stroke-width="0.7" />
<line x1="148.6" y1="434.6" x2="151.8" y2="434.6" stroke="#9a9a8a" stroke-width="0.7" />
<line x1="148.6" y1="436.8" x2="151.8" y2="436.8" stroke="#9a9a8a" stroke-width="0.7" />
<line x1="148.6" y1="438.6" x2="151.8" y2="438.6" stroke="#9a9a8a" stroke-width="0.7" />
<path d="M249.5 423.4 L259.2 432.6 H255.7 V439.1 H259.2 L249.5 448.3 L239.8 439.1 H243.3 V432.6 H239.8 Z" fill="#77933c" stroke="#2f3c16" stroke-width="1.1" stroke-linejoin="miter"/>
<rect x="246.5" y="430.6" width="6" height="10" fill="#f4f4f0" />
<line x1="247.9" y1="432.6" x2="251.1" y2="432.6" stroke="#9a9a8a" stroke-width="0.7" />
<line x1="247.9" y1="434.6" x2="251.1" y2="434.6" stroke="#9a9a8a" stroke-width="0.7" />
<line x1="247.9" y1="436.8" x2="251.1" y2="436.8" stroke="#9a9a8a" stroke-width="0.7" />
<line x1="247.9" y1="438.6" x2="251.1" y2="438.6" stroke="#9a9a8a" stroke-width="0.7" />
<path d="M350.75 423.4 L360.45 432.6 H356.95 V439.1 H360.45 L350.75 448.3 L341.05 439.1 H344.55 V432.6 H341.05 Z" fill="#77933c" stroke="#2f3c16" stroke-width="1.1" stroke-linejoin="miter"/>
<rect x="347.75" y="430.6" width="6" height="10" fill="#f4f4f0" />
<line x1="349.15" y1="432.6" x2="352.35" y2="432.6" stroke="#9a9a8a" stroke-width="0.7" />
<line x1="349.15" y1="434.6" x2="352.35" y2="434.6" stroke="#9a9a8a" stroke-width="0.7" />
<line x1="349.15" y1="436.8" x2="352.35" y2="436.8" stroke="#9a9a8a" stroke-width="0.7" />
<line x1="349.15" y1="438.6" x2="352.35" y2="438.6" stroke="#9a9a8a" stroke-width="0.7" />
<path d="M460.75 423.4 L470.45 432.6 H466.95 V439.1 H470.45 L460.75 448.3 L451.05 439.1 H454.55 V432.6 H451.05 Z" fill="#77933c" stroke="#2f3c16" stroke-width="1.1" stroke-linejoin="miter"/>
<rect x="457.75" y="430.6" width="6" height="10" fill="#f4f4f0" />
<line x1="459.15" y1="432.6" x2="462.35" y2="432.6" stroke="#9a9a8a" stroke-width="0.7" />
<line x1="459.15" y1="434.6" x2="462.35" y2="434.6" stroke="#9a9a8a" stroke-width="0.7" />
<line x1="459.15" y1="436.8" x2="462.35" y2="436.8" stroke="#9a9a8a" stroke-width="0.7" />
<line x1="459.15" y1="438.6" x2="462.35" y2="438.6" stroke="#9a9a8a" stroke-width="0.7" />
<path d="M580.5 423.4 L590.2 432.6 H586.7 V439.1 H590.2 L580.5 448.3 L570.8 439.1 H574.3 V432.6 H570.8 Z" fill="#77933c" stroke="#2f3c16" stroke-width="1.1" stroke-linejoin="miter"/>
<rect x="577.5" y="430.6" width="6" height="10" fill="#f4f4f0" />
<line x1="578.9" y1="432.6" x2="582.1" y2="432.6" stroke="#9a9a8a" stroke-width="0.7" />
<line x1="578.9" y1="434.6" x2="582.1" y2="434.6" stroke="#9a9a8a" stroke-width="0.7" />
<line x1="578.9" y1="436.8" x2="582.1" y2="436.8" stroke="#9a9a8a" stroke-width="0.7" />
<line x1="578.9" y1="438.6" x2="582.1" y2="438.6" stroke="#9a9a8a" stroke-width="0.7" />
<path d="M681.25 423.4 L690.95 432.6 H687.45 V439.1 H690.95 L681.25 448.3 L671.55 439.1 H675.05 V432.6 H671.55 Z" fill="#77933c" stroke="#2f3c16" stroke-width="1.1" stroke-linejoin="miter"/>
<rect x="678.25" y="430.6" width="6" height="10" fill="#f4f4f0" />
<line x1="679.65" y1="432.6" x2="682.85" y2="432.6" stroke="#9a9a8a" stroke-width="0.7" />
<line x1="679.65" y1="434.6" x2="682.85" y2="434.6" stroke="#9a9a8a" stroke-width="0.7" />
<line x1="679.65" y1="436.8" x2="682.85" y2="436.8" stroke="#9a9a8a" stroke-width="0.7" />
<line x1="679.65" y1="438.6" x2="682.85" y2="438.6" stroke="#9a9a8a" stroke-width="0.7" />
<path d="M781 423.4 L790.7 432.6 H787.2 V439.1 H790.7 L781 448.3 L771.3 439.1 H774.8 V432.6 H771.3 Z" fill="#77933c" stroke="#2f3c16" stroke-width="1.1" stroke-linejoin="miter"/>
<rect x="778" y="430.6" width="6" height="10" fill="#f4f4f0" />
<line x1="779.4" y1="432.6" x2="782.6" y2="432.6" stroke="#9a9a8a" stroke-width="0.7" />
<line x1="779.4" y1="434.6" x2="782.6" y2="434.6" stroke="#9a9a8a" stroke-width="0.7" />
<line x1="779.4" y1="436.8" x2="782.6" y2="436.8" stroke="#9a9a8a" stroke-width="0.7" />
<line x1="779.4" y1="438.6" x2="782.6" y2="438.6" stroke="#9a9a8a" stroke-width="0.7" />
<path d="M881.75 423.4 L891.45 432.6 H887.95 V439.1 H891.45 L881.75 448.3 L872.05 439.1 H875.55 V432.6 H872.05 Z" fill="#77933c" stroke="#2f3c16" stroke-width="1.1" stroke-linejoin="miter"/>
<rect x="878.75" y="430.6" width="6" height="10" fill="#f4f4f0" />
<line x1="880.15" y1="432.6" x2="883.35" y2="432.6" stroke="#9a9a8a" stroke-width="0.7" />
<line x1="880.15" y1="434.6" x2="883.35" y2="434.6" stroke="#9a9a8a" stroke-width="0.7" />
<line x1="880.15" y1="436.8" x2="883.35" y2="436.8" stroke="#9a9a8a" stroke-width="0.7" />
<line x1="880.15" y1="438.6" x2="883.35" y2="438.6" stroke="#9a9a8a" stroke-width="0.7" />
<rect x="105.5" y="448.5" width="57.5" height="37.5" fill="#92cddc" stroke="#dbe5c0" stroke-width="0.9" />
<rect x="175" y="448.5" width="58" height="37.5" fill="#92cddc" stroke="#dbe5c0" stroke-width="0.9" />
<rect x="241" y="448.5" width="58" height="37.5" fill="#92cddc" stroke="#dbe5c0" stroke-width="0.9" />
<rect x="303" y="448" width="57.75" height="38" fill="#92cddc" stroke="#dbe5c0" stroke-width="0.9" />
<rect x="366.25" y="448" width="58" height="38" fill="#92cddc" stroke="#dbe5c0" stroke-width="0.9" />
<rect x="432.5" y="446.75" width="58" height="38.75" fill="#92cddc" stroke="#dbe5c0" stroke-width="0.9" />
<rect x="497.5" y="448.5" width="57.5" height="37.5" fill="#92cddc" stroke="#dbe5c0" stroke-width="0.9" />
<rect x="561.25" y="448.5" width="57.5" height="37.5" fill="#92cddc" stroke="#dbe5c0" stroke-width="0.9" />
<rect x="625" y="448.5" width="57.5" height="37.5" fill="#92cddc" stroke="#dbe5c0" stroke-width="0.9" />
<rect x="688.75" y="448.5" width="56.75" height="37.5" fill="#92cddc" stroke="#dbe5c0" stroke-width="0.9" />
<rect x="751.75" y="446.75" width="57.5" height="38.25" fill="#92cddc" stroke="#dbe5c0" stroke-width="0.9" />
<rect x="814.75" y="448.5" width="57.5" height="37.5" fill="#92cddc" stroke="#dbe5c0" stroke-width="0.9" />
<rect x="881.25" y="448.5" width="43.75" height="37.5" fill="#92cddc" stroke="#dbe5c0" stroke-width="0.9" />
<defs>
<linearGradient id="gfilm" x1="0" y1="0" x2="1" y2="0"><stop offset="0" stop-color="#cfe4f7"/><stop offset="0.45" stop-color="#8fbce8"/><stop offset="1" stop-color="#2f63b5"/></linearGradient>
<radialGradient id="gflare" cx="0.5" cy="0.5" r="0.5"><stop offset="0" stop-color="#fff"/><stop offset="0.35" stop-color="#fff" stop-opacity="0.8"/><stop offset="1" stop-color="#fff" stop-opacity="0"/></radialGradient>
<radialGradient id="gglow" cx="0.5" cy="0.5" r="0.5"><stop offset="0" stop-color="#fff"/><stop offset="0.3" stop-color="#ffe28a"/><stop offset="0.65" stop-color="#f08a10"/><stop offset="1" stop-color="#7a2a00" stop-opacity="0"/></radialGradient>
<linearGradient id="gearth" x1="0" y1="0" x2="0" y2="1"><stop offset="0" stop-color="#3f7fe0"/><stop offset="1" stop-color="#2a5fc0"/></linearGradient>
<filter id="b1" x="-20%" y="-20%" width="140%" height="140%"><feGaussianBlur stdDeviation="0.9"/></filter>
<filter id="b2" x="-20%" y="-20%" width="140%" height="140%"><feGaussianBlur stdDeviation="1.6"/></filter>
<clipPath id="c6"><rect x="438.7" y="454.2" width="46.3" height="25.8"/></clipPath>
<filter id="b05" x="-20%" y="-20%" width="140%" height="140%"><feGaussianBlur stdDeviation="0.5"/></filter>
<clipPath id="c10"><rect x="694.2" y="454.3" width="43.4" height="24.1"/></clipPath>
<clipPath id="c11"><rect x="758.7" y="453" width="45.1" height="25.4"/></clipPath>
</defs>
<rect x="123.4" y="455.2" width="25.1" height="6" fill="#3e3e3e" rx="0.6"/>
<rect x="124.91" y="456.3" width="2.51" height="3.8" fill="#f2f2f2" rx="0.5"/>
<rect x="128.82" y="456.3" width="2.51" height="3.8" fill="#f2f2f2" rx="0.5"/>
<rect x="132.74" y="456.3" width="2.51" height="3.8" fill="#f2f2f2" rx="0.5"/>
<rect x="136.66" y="456.3" width="2.51" height="3.8" fill="#f2f2f2" rx="0.5"/>
<rect x="140.57" y="456.3" width="2.51" height="3.8" fill="#f2f2f2" rx="0.5"/>
<rect x="144.49" y="456.3" width="2.51" height="3.8" fill="#f2f2f2" rx="0.5"/>
<rect x="123.8" y="461.2" width="24.3" height="11.4" fill="url(#gfilm)"/>
<circle cx="129.8" cy="466.6" r="4.6" fill="url(#gflare)"/>
<path d="M124 470.5 L136 463 M125 463.5 L134.5 470 M129.8 461.5 V472.3" stroke="#fff" stroke-width="0.7" opacity="0.85"/>
<rect x="123.4" y="472.5" width="25.1" height="5.9" fill="#3e3e3e" rx="0.6"/>
<rect x="124.91" y="473.6" width="2.51" height="3.7" fill="#f2f2f2" rx="0.5"/>
<rect x="128.82" y="473.6" width="2.51" height="3.7" fill="#f2f2f2" rx="0.5"/>
<rect x="132.74" y="473.6" width="2.51" height="3.7" fill="#f2f2f2" rx="0.5"/>
<rect x="136.66" y="473.6" width="2.51" height="3.7" fill="#f2f2f2" rx="0.5"/>
<rect x="140.57" y="473.6" width="2.51" height="3.7" fill="#f2f2f2" rx="0.5"/>
<rect x="144.49" y="473.6" width="2.51" height="3.7" fill="#f2f2f2" rx="0.5"/>
<rect x="193.2" y="461.6" width="18.8" height="4" fill="#3e3e3e" rx="0.6"/>
<rect x="194.62" y="462.7" width="2.2" height="1.8" fill="#f2f2f2" rx="0.5"/>
<rect x="198.06" y="462.7" width="2.2" height="1.8" fill="#f2f2f2" rx="0.5"/>
<rect x="201.5" y="462.7" width="2.2" height="1.8" fill="#f2f2f2" rx="0.5"/>
<rect x="204.94" y="462.7" width="2.2" height="1.8" fill="#f2f2f2" rx="0.5"/>
<rect x="208.38" y="462.7" width="2.2" height="1.8" fill="#f2f2f2" rx="0.5"/>
<rect x="193.6" y="465.6" width="18" height="8.6" fill="url(#gfilm)"/>
<rect x="193.2" y="474.2" width="18.8" height="4.2" fill="#3e3e3e" rx="0.6"/>
<rect x="194.62" y="475.3" width="2.2" height="2" fill="#f2f2f2" rx="0.5"/>
<rect x="198.06" y="475.3" width="2.2" height="2" fill="#f2f2f2" rx="0.5"/>
<rect x="201.5" y="475.3" width="2.2" height="2" fill="#f2f2f2" rx="0.5"/>
<rect x="204.94" y="475.3" width="2.2" height="2" fill="#f2f2f2" rx="0.5"/>
<rect x="208.38" y="475.3" width="2.2" height="2" fill="#f2f2f2" rx="0.5"/>
<path d="M200.3 457.2 L208.3 454.8 V470.6 a2.6 2.1 0 1 1 -1.6 -1.9 V459.6 L201.9 461 V472.8 a2.6 2.1 0 1 1 -1.6 -1.9 Z" fill="#7070b4" stroke="#5a5a9c" stroke-width="0.4" opacity="0.92"/>
<path d="M256.9 455 H272.6 L277.6 460 V478.8 H256.9 Z" fill="#fdfdfd" stroke="#9a9a9a" stroke-width="0.6"/>
<path d="M272.6 455 V460 H277.6 Z" fill="#d8d8d8" stroke="#9a9a9a" stroke-width="0.5"/>
<circle cx="267.3" cy="464.4" r="4.5" fill="#1f62c8"/>
<path d="M264.6 462 q2-2.4 4-1.4 q1.6 1.2 0.2 2.6 q-1.6 0.8 -1.4 2.6 q-1.8 0.6 -2.6-1.4 z M268.6 466 q1.8-0.6 2.4 0.6 q-0.8 1.6-2.2 1.6 z" fill="#4fb83a"/>
<path d="M261.3 462.6 l-1.7 1.8 l1.7 1.8 M273.3 462.6 l1.7 1.8 l-1.7 1.8" fill="none" stroke="#5a96e0" stroke-width="0.9"/>
<rect x="260.3" y="471.4" width="13.9" height="1.3" fill="#8f92c4"/>
<rect x="260.3" y="473.6" width="13.9" height="1.3" fill="#8f92c4"/>
<rect x="260.3" y="475.8" width="13.9" height="1.3" fill="#8f92c4"/>
<path d="M319.1 454.5 H334.8 L339.6 459.3 V478.3 H319.1 Z" fill="#fdfdfd" stroke="#a8a8a8" stroke-width="0.6"/>
<path d="M334.8 454.5 V459.3 H339.6 Z" fill="#dcdcdc" stroke="#a8a8a8" stroke-width="0.5"/>
<rect x="321.5" y="462.3" width="15.6" height="13" fill="#2f8cc4" rx="0.8"/>
<rect x="322.5" y="464.6" width="3.9" height="2.6" fill="#7fc0e6"/>
<rect x="327.35" y="464.6" width="3.9" height="2.6" fill="#7fc0e6"/>
<rect x="332.2" y="464.6" width="3.9" height="2.6" fill="#7fc0e6"/>
<rect x="322.5" y="468.1" width="3.9" height="2.6" fill="#a9d4ee"/>
<rect x="327.35" y="468.1" width="3.9" height="2.6" fill="#a9d4ee"/>
<rect x="332.2" y="468.1" width="3.9" height="2.6" fill="#a9d4ee"/>
<rect x="322.5" y="471.6" width="3.9" height="2.6" fill="#a9d4ee"/>
<rect x="327.35" y="471.6" width="3.9" height="2.6" fill="#a9d4ee"/>
<rect x="332.2" y="471.6" width="3.9" height="2.6" fill="#a9d4ee"/>
<rect x="375.2" y="455.2" width="40.2" height="25.1" fill="#262626" filter="url(#b05)" opacity="0.85"/>
<rect x="374.2" y="454.1" width="40.2" height="25.2" fill="#fff"/>
<rect x="376.5" y="456.2" width="6" height="1.7" fill="#eeeecf"/>
<rect x="386" y="456.6" width="4" height="1.7" fill="#eeeecf"/>
<rect x="394" y="458.6" width="6" height="1.7" fill="#eeeecf"/>
<rect x="401" y="456.8" width="5" height="1.7" fill="#eeeecf"/>
<rect x="376.8" y="462.4" width="4" height="1.7" fill="#eeeecf"/>
<rect x="386.4" y="463.6" width="5" height="1.7" fill="#eeeecf"/>
<rect x="398.5" y="463.4" width="4" height="1.7" fill="#eeeecf"/>
<rect x="405.6" y="462" width="5" height="1.7" fill="#eeeecf"/>
<rect x="379.6" y="474.6" width="5" height="1.7" fill="#eeeecf"/>
<rect x="389" y="475.2" width="4" height="1.7" fill="#eeeecf"/>
<rect x="398" y="474.8" width="4" height="1.7" fill="#eeeecf"/>
<rect x="406" y="472.6" width="5" height="1.7" fill="#eeeecf"/>
<path d="M380 458 V474 M388.6 458.5 V475 M396.5 460 V474.5 M403.6 458.6 V472 M376 468.6 H412 M378 465 H396" stroke="#e6e6e6" stroke-width="0.5" fill="none"/>
<g clip-path="url(#c6)">
<rect x="438.7" y="454.1" width="46.3" height="25.9" fill="#0404c6"/>
<path d="M441 461 q3-5.6 9-2.6 q11 4.6 22.6 0 q6-3 9 2.6 q-0.6 5-6.4 3.6 q-4-1-6.6 1.4 q-3 3-7.2 2.6 q-4.2 0.4-7.2-2.6 q-2.6-2.4-6.6-1.4 q-5.8 1.4-6.6-3.6z" fill="#1a48ff" filter="url(#b1)"/>
<path d="M442.4 461 q2.4-4.2 7-2 q5 2.6 9 3 q3 0.4 3.4 0 q0.4 0.4 3.4 0 q4-0.4 9-3 q4.6-2.2 7 2 q-0.6 3.6-5 2.6 q-4.4-1.2-8 1 q-3.4 2.4-6.4 1.4 q-3 1-6.4-1.4 q-3.6-2.2-8-1 q-4.4 1-5-2.6z" fill="#10dcf4" filter="url(#b05)"/>
<ellipse cx="444.6" cy="461" rx="2.9" ry="2.1" fill="#28e048" filter="url(#b05)"/>
<ellipse cx="478.4" cy="461" rx="2.9" ry="2.1" fill="#28e048" filter="url(#b05)"/>
<ellipse cx="458.8" cy="463.3" rx="2.1" ry="1.7" fill="#18e030" filter="url(#b05)"/>
<ellipse cx="463.8" cy="463.3" rx="2.1" ry="1.7" fill="#18e030" filter="url(#b05)"/>
<ellipse cx="444.3" cy="460.8" rx="1.8" ry="1.2" fill="#f0f020" filter="url(#b05)"/>
<ellipse cx="478.7" cy="460.8" rx="1.8" ry="1.2" fill="#f0f020" filter="url(#b05)"/>
<ellipse cx="444" cy="460.5" rx="1.1" ry="0.7" fill="#f02818" filter="url(#b05)"/>
<ellipse cx="479" cy="460.5" rx="1.1" ry="0.7" fill="#f02818" filter="url(#b05)"/>
<path d="M442.6 467.2 L461.2 468.8 L480.3 467.2" stroke="#5a3a6a" stroke-width="0.6" fill="none"/>
<path d="M449 468.4 L455.4 469 M467 469 L473.6 468.4" stroke="#d83030" stroke-width="0.9" fill="none"/>
<path d="M448.4 469.2 v1.8 M455.6 469.6 v1.8 M467 469.6 v1.8 M474 469.2 v1.8" stroke="#9a9a9a" stroke-width="0.8"/>
<ellipse cx="461.2" cy="469.2" rx="1.5" ry="2.8" fill="#4a4a4a"/><path d="M461.2 464.6 v2.4" stroke="#333" stroke-width="0.7"/>
<rect x="438.7" y="478.9" width="46.3" height="1.1" fill="#9a9aa8"/>
</g>
<rect x="502.9" y="454.7" width="45.5" height="24" fill="#fff"/>
<path d="M507.3 455 L543.3 462.7 L526 477.3 L503.3 459.3 Z" fill="#0b16bc"/>
<path d="M525 461.2 q3.4-1.6 6.4 0.6 l3.6 1.2 q1.4 2.6-0.6 5 l-6.2 5.2 q-3.6-0.6-4.6-3.4 q1.6-1.8 0.6-3.6 q-1.4-2.8 0.8-5z" fill="#2270dc"/>
<path d="M519.6 471.6 q4.4-1.6 8.6 3.4 L526 477.3 L519.4 472.2 Z" fill="#20c070"/>
<path d="M520.4 472.4 q3-0.4 5.4 2.6 L525.4 476.8 L520.2 472.8 Z" fill="#d8e020"/>
<path d="M520.6 473 q1.8 0 3 1.6 l-0.6 0.8 z" fill="#f04818"/>
<rect x="544.6" y="460.6" width="1.7" height="12.6" fill="#c8dcf0"/><rect x="544.6" y="461" width="1.7" height="2" fill="#e8a0a0"/><rect x="544.6" y="464" width="1.7" height="2.4" fill="#e0e8a0"/><rect x="544.6" y="467.4" width="1.7" height="2.4" fill="#a0e0c0"/>
<path d="M543.6 460.3 h3.6 M543.6 473.4 h3.6" stroke="#445" stroke-width="0.7"/>
<path d="M546.6 461 v5" stroke="#667" stroke-width="0.6"/>
<rect x="569.5" y="455.4" width="42.6" height="25.1" fill="#262626" filter="url(#b05)" opacity="0.85"/>
<rect x="568.5" y="454.3" width="42.6" height="25.2" fill="#fff"/>
<path d="M571.5 457.6 H606 V466 M571.5 457.6 V470 M574 462 H590 V466.6 H604 V472" stroke="#eda8b0" stroke-width="0.6" fill="none"/>
<path d="M572 468.6 H600 M576 468.6 V476 H596 M584 470 V475 M603.6 468 V476.6" stroke="#a8b4ee" stroke-width="0.6" fill="none"/>
<circle cx="570.8" cy="461.6" r="1.5" fill="#f4e860"/><path d="M603 458 h3.4 l-1.7 2.8z" fill="#e03030"/>
<rect x="585.6" y="459.2" width="1.7" height="1.5" fill="#c8a070"/>
<rect x="593" y="463.6" width="1.7" height="1.5" fill="#e08050"/>
<rect x="597.6" y="462.6" width="1.7" height="1.5" fill="#e06040"/>
<rect x="578" y="469.6" width="1.7" height="1.5" fill="#8a8ae0"/>
<rect x="587" y="470.2" width="1.7" height="1.5" fill="#7a7ad8"/>
<rect x="604.6" y="470.2" width="1.7" height="1.5" fill="#d07080"/>
<rect x="601.6" y="477" width="1.7" height="1.5" fill="#e05050"/>
<rect x="574.6" y="474.6" width="1.7" height="1.5" fill="#9a9ae0"/>
<rect x="632.9" y="454.1" width="41.3" height="25.3" fill="#fff"/>
<path d="M632.9 469.1 L635.9 463.6 L646 466 L656 471.5 L661 472.5 L671 468.7 L669.7 475.1 L665.4 476 L661.6 474 L658.6 477.7 L654.3 478.6 L648.3 470.9 L643.1 470 L640 472 L637.1 470 Z" fill="#7e0d12"/>
<path d="M635.9 456.3 L641.4 456.5 L645.7 458.9 L654.3 456.7 L671.4 463.1 L673.6 466.6 L670.6 468.7 L661.1 471.7 L656 470.9 L645.7 465.3 L637.1 462.3 Z" fill="#74787d"/>
<path d="M654.3 456.9 L671 463.2 L660.6 466.2 L646.4 460.2 Z" fill="#9ea2a6"/>
<path d="M636.4 456.8 L641.2 457 L644.6 459.6 L640 461 Z" fill="#9a9ea2"/>
<path d="M646 461.4 L660 467 L660.6 471.2 L656 470.6 L645.8 465 Z" fill="#5c6066"/>
<path d="M654.3 456.7 L671.4 463.1 L673.6 466.6 L671 468.4" stroke="#b49a38" stroke-width="0.9" fill="none"/>
<rect x="646" y="462.6" width="3.4" height="2.6" fill="#e4d850" transform="rotate(20 647.6 464)"/>
<ellipse cx="658.6" cy="469.2" rx="2.3" ry="2.9" fill="#dcd430"/><path d="M658.8 466.4 a2.3 2.9 0 0 1 2 3.2 l-2 -0.6z" fill="#48b030"/>
<g clip-path="url(#c10)">
<rect x="694.2" y="454.3" width="43.4" height="24.1" fill="#0b0503"/>
<rect x="714" y="462" width="12.4" height="9.6" fill="#8a3c12" filter="url(#b1)"/>
<rect x="716" y="463.4" width="8" height="2" fill="#c06a28" filter="url(#b1)"/>
<rect x="726.4" y="465" width="5" height="6" fill="#3a1a0a" filter="url(#b1)"/>
<ellipse cx="709" cy="468.4" rx="6.4" ry="3.4" fill="#ffac20" filter="url(#b1)"/>
<rect x="693" y="470" width="46" height="8" fill="#f89418" filter="url(#b1)"/>
<rect x="726" y="468.4" width="12" height="4" fill="#a85414" filter="url(#b1)"/>
<ellipse cx="708" cy="474.2" rx="14" ry="3.4" fill="#ffdc68" filter="url(#b1)"/>
<ellipse cx="710.8" cy="473" rx="3" ry="4.6" fill="#fffbe8" filter="url(#b1)"/>
<ellipse cx="710" cy="476.4" rx="6" ry="1.4" fill="#fff4c8" filter="url(#b1)"/>
<rect x="710" y="458.6" width="1.7" height="7" fill="#e8dcd0"/>
<rect x="694.2" y="477.8" width="43.4" height="0.6" fill="#4a2408"/>
</g>
<g clip-path="url(#c11)">
<rect x="758.7" y="453" width="45.1" height="25.4" fill="url(#gearth)"/>
<ellipse cx="768" cy="470" rx="12" ry="5" fill="#f4f8ff" opacity="0.95" filter="url(#b1)"/>
<ellipse cx="776" cy="476.2" rx="17" ry="3" fill="#f4f8ff" opacity="0.92" filter="url(#b1)"/>
<ellipse cx="764" cy="465" rx="6" ry="2.4" fill="#f4f8ff" opacity="0.8" filter="url(#b1)"/>
<ellipse cx="792" cy="476.6" rx="10" ry="1.8" fill="#f4f8ff" opacity="0.65" filter="url(#b1)"/>
<ellipse cx="779" cy="467" rx="4" ry="1.8" fill="#f4f8ff" opacity="0.6" filter="url(#b1)"/>
<ellipse cx="797" cy="466" rx="5" ry="1.6" fill="#f4f8ff" opacity="0.3" filter="url(#b1)"/>
<ellipse cx="761" cy="472" rx="4" ry="5" fill="#f4f8ff" opacity="0.8" filter="url(#b1)"/>
<path d="M758.7 453 H803.8 V458.8 Q781 462.6 758.7 462 Z" fill="#0a0c12"/>
<path d="M758.7 462.3 Q781 462.9 803.8 459.1" stroke="#a8ccf6" stroke-width="0.8" fill="none" opacity="0.7"/>
<g transform="rotate(15 774 463.8)"><rect x="768.4" y="461.4" width="11.4" height="4.8" fill="#a4a4a2" rx="1.2"/><rect x="776.4" y="461.4" width="3.4" height="4.8" fill="#ecece8" rx="1.2"/><rect x="770.4" y="461.6" width="2.4" height="4.4" fill="#c8c8c4"/></g>
<g transform="rotate(22 793 468.4)"><rect x="784" y="465.8" width="18" height="5.4" fill="#a8a8a6" rx="1.4"/><rect x="784" y="465.8" width="5.4" height="5.4" fill="#f2f2ee" rx="1.4"/><rect x="796" y="465.8" width="5.4" height="5.4" fill="#e8e8e4" rx="1.4"/><rect x="791" y="465.6" width="1.2" height="5.8" fill="#6a6a6a"/></g>
<path d="M790 471.6 l6 2 l-4.6 4.6 l-3.4 -2z" fill="#1a5ad0" opacity="0.8"/>
</g>
<rect x="822" y="455.4" width="43.5" height="25.1" fill="#262626" filter="url(#b05)" opacity="0.85"/>
<rect x="821" y="454.3" width="43.5" height="25.2" fill="#fff"/>
<path d="M826 458 V474 M828.6 460 H834 M826 466 H833 M826 472 H832 M830 462 V470" stroke="#cfd4ee" stroke-width="0.6" fill="none"/>
<rect x="832.86" y="458.26" width="2.35" height="1.37" fill="#6a6ae8" opacity="0.7"/>
<rect x="836.55" y="458.27" width="2.19" height="1.24" fill="#6a6ae8" opacity="0.7"/>
<rect x="840.84" y="458.3" width="1.91" height="1.63" fill="#5060d8" opacity="0.7"/>
<rect x="845.06" y="458.24" width="1.91" height="1.56" fill="#b080e8" opacity="0.7"/>
<rect x="848.31" y="458.29" width="2.03" height="1.82" fill="#5060d8" opacity="0.7"/>
<rect x="852.24" y="458.5" width="2.37" height="1.06" fill="#a070e0" opacity="0.7"/>
<rect x="856.05" y="458.54" width="2.04" height="1.59" fill="#5060d8" opacity="0.7"/>
<rect x="832.96" y="462.56" width="1.94" height="1.57" fill="#a070e0" opacity="0.7"/>
<rect x="840.98" y="462.09" width="2.19" height="1.76" fill="#6a6ae8" opacity="0.7"/>
<rect x="844.42" y="462.77" width="1.71" height="1.56" fill="#6a6ae8" opacity="0.7"/>
<rect x="848.83" y="462.56" width="2.43" height="1.58" fill="#5a80f0" opacity="0.7"/>
<rect x="856.76" y="462.05" width="2.58" height="1.65" fill="#6a6ae8" opacity="0.7"/>
<rect x="836.73" y="465.82" width="2.25" height="1.17" fill="#5a80f0" opacity="0.7"/>
<rect x="840.49" y="465.9" width="1.95" height="1.39" fill="#5a80f0" opacity="0.7"/>
<rect x="845" y="466.12" width="1.99" height="1.14" fill="#b080e8" opacity="0.7"/>
<rect x="848.54" y="466.59" width="2.56" height="1.38" fill="#b080e8" opacity="0.7"/>
<rect x="852.28" y="465.99" width="1.93" height="1.48" fill="#a070e0" opacity="0.7"/>
<rect x="856.47" y="465.92" width="2.35" height="1.61" fill="#6a6ae8" opacity="0.7"/>
<rect x="832.85" y="470.36" width="2.52" height="1.74" fill="#5060d8" opacity="0.7"/>
<rect x="841.16" y="469.91" width="2.16" height="1.1" fill="#5060d8" opacity="0.7"/>
<rect x="844.81" y="470.39" width="2.22" height="1.11" fill="#6a6ae8" opacity="0.7"/>
<rect x="848.68" y="469.72" width="1.74" height="1.36" fill="#5060d8" opacity="0.7"/>
<rect x="856.49" y="470.36" width="2.44" height="1.47" fill="#5a80f0" opacity="0.7"/>
<rect x="832.69" y="473.78" width="2.04" height="1.14" fill="#b080e8" opacity="0.7"/>
<rect x="837.1" y="474.06" width="1.83" height="1.02" fill="#b080e8" opacity="0.7"/>
<rect x="841.16" y="473.95" width="2.88" height="1.76" fill="#a070e0" opacity="0.7"/>
<rect x="844.54" y="473.96" width="1.97" height="1.37" fill="#6a6ae8" opacity="0.7"/>
<rect x="848.33" y="473.83" width="2.3" height="1.64" fill="#5060d8" opacity="0.7"/>
<rect x="852.59" y="474.04" width="2.75" height="1.74" fill="#a070e0" opacity="0.7"/>
<rect x="856.18" y="473.98" width="2.99" height="1.79" fill="#5a80f0" opacity="0.7"/>
<path d="M833 460 H860 M833 468 H860 M833 475.6 H858 M858.6 458 V476" stroke="#b8c0f0" stroke-width="0.5" fill="none"/>
<line x1="197.5" y1="185" x2="197.5" y2="485" stroke="#9a9a9a" stroke-width="0.75" stroke-dasharray="1 2.2" opacity="0.75"/>
<line x1="299.5" y1="185" x2="299.5" y2="485" stroke="#9a9a9a" stroke-width="0.75" stroke-dasharray="1 2.2" opacity="0.75"/>
<line x1="399" y1="185" x2="399" y2="485" stroke="#9a9a9a" stroke-width="0.75" stroke-dasharray="1 2.2" opacity="0.75"/>
<line x1="532.75" y1="185" x2="532.75" y2="485" stroke="#9a9a9a" stroke-width="0.75" stroke-dasharray="1 2.2" opacity="0.75"/>
<line x1="634" y1="185" x2="634" y2="485" stroke="#9a9a9a" stroke-width="0.75" stroke-dasharray="1 2.2" opacity="0.75"/>
<line x1="733" y1="185" x2="733" y2="485" stroke="#9a9a9a" stroke-width="0.75" stroke-dasharray="1 2.2" opacity="0.75"/>
<line x1="835" y1="185" x2="835" y2="485" stroke="#9a9a9a" stroke-width="0.75" stroke-dasharray="1 2.2" opacity="0.75"/>
</svg>
<div class="t" style="left:395.5px;top:10.2px;width:240px;font-size:9.6px;line-height:12px;color:#fff;font-weight:bold;">应用域</div>
<div class="t" style="left:395.5px;top:20.2px;width:240px;font-size:9.6px;line-height:12px;color:#fff;font-weight:bold;">(人员+工具)</div>
<div class="t" style="left:395.5px;top:94.6px;width:240px;font-size:9.6px;line-height:12px;color:#fff;font-weight:bold;">过程域</div>
<div class="t" style="left:395.5px;top:195.3px;width:240px;font-size:9.6px;line-height:12px;color:#fff;font-weight:bold;">领域/学科域</div>
<div class="t" style="left:395.5px;top:266.2px;width:240px;font-size:9.6px;line-height:12px;color:#fff;font-weight:bold;">模型域</div>
<div class="t" style="left:395.5px;top:429px;width:240px;font-size:9.6px;line-height:12px;color:#fff;font-weight:bold;">实体域</div>
<div class="t" style="left:20.4px;top:73.8px;width:240px;font-size:8px;line-height:10px;color:#202020;">需求分析</div>
<div class="t" style="left:100.38px;top:73.8px;width:240px;font-size:8px;line-height:10px;color:#202020;">功能设计</div>
<div class="t" style="left:176.75px;top:73.8px;width:240px;font-size:8px;line-height:10px;color:#202020;">逻辑设计</div>
<div class="t" style="left:269.5px;top:73.8px;width:240px;font-size:8px;line-height:10px;color:#202020;">物理设计</div>
<div class="t" style="left:348.9px;top:73.8px;width:240px;font-size:8px;line-height:10px;color:#202020;">总师</div>
<div class="t" style="left:434.95px;top:73.8px;width:240px;font-size:8px;line-height:10px;color:#202020;">总师</div>
<div class="t" style="left:508.5px;top:73.8px;width:240px;font-size:8px;line-height:10px;color:#202020;">工艺设计</div>
<div class="t" style="left:594.5px;top:73.5px;width:240px;font-size:8px;line-height:10px;color:#202020;">生产制造</div>
<div class="t" style="left:683.55px;top:73.5px;width:240px;font-size:8px;line-height:10px;color:#202020;">服务保障</div>
<div class="t" style="left:763.25px;top:74.8px;width:240px;font-size:8px;line-height:10px;color:#202020;">绿色回收</div>
<div class="t" style="left:109.5px;top:120.6px;width:240px;font-size:9.6px;line-height:12px;color:#fff;font-weight:bold;">管控流程</div>
<div class="t" style="left:396.7px;top:120.6px;width:240px;font-size:9.6px;line-height:12px;color:#fff;font-weight:bold;">技术流程</div>
<div class="t" style="left:683.6px;top:120.4px;width:240px;font-size:9.6px;line-height:12px;color:#fff;font-weight:bold;">动态/协同流程</div>
<div class="t" style="left:27.15px;top:225.3px;width:240px;font-size:9.6px;line-height:12px;color:#111;"><b>需求（R)</b></div>
<div class="t" style="left:27.15px;top:237.97px;width:240px;font-size:9.33px;line-height:11.66px;color:#262626;-webkit-text-stroke:0.3px #262626;">算法与机理</div>
<div class="t" style="left:128.75px;top:225.3px;width:240px;font-size:9.6px;line-height:12px;color:#111;"><b>功能（F）</b></div>
<div class="t" style="left:128.75px;top:237.97px;width:240px;font-size:9.33px;line-height:11.66px;color:#262626;-webkit-text-stroke:0.3px #262626;">算法与机理</div>
<div class="t" style="left:229.5px;top:225.3px;width:240px;font-size:9.6px;line-height:12px;color:#111;"><b>逻辑（L）</b></div>
<div class="t" style="left:229.5px;top:237.97px;width:240px;font-size:9.33px;line-height:11.66px;color:#262626;-webkit-text-stroke:0.3px #262626;">算法与机理</div>
<div class="t" style="left:345.8px;top:225.3px;width:240px;font-size:9.6px;line-height:12px;color:#111;"><b>物理（P）</b></div>
<div class="t" style="left:345.8px;top:237.97px;width:240px;font-size:9.33px;line-height:11.66px;color:#262626;-webkit-text-stroke:0.3px #262626;">算法与机理</div>
<div class="t" style="left:463.25px;top:225.3px;width:240px;font-size:9.6px;line-height:12px;color:#111;"><b>工艺</b>（P）</div>
<div class="t" style="left:463.25px;top:237.97px;width:240px;font-size:9.33px;line-height:11.66px;color:#262626;-webkit-text-stroke:0.3px #262626;">算法与机理</div>
<div class="t" style="left:563.1px;top:225.3px;width:240px;font-size:9.6px;line-height:12px;color:#111;"><b>制造</b>（M）</div>
<div class="t" style="left:563.1px;top:237.97px;width:240px;font-size:9.33px;line-height:11.66px;color:#262626;-webkit-text-stroke:0.3px #262626;">算法与机理</div>
<div class="t" style="left:666.55px;top:225.3px;width:240px;font-size:9.6px;line-height:12px;color:#111;"><b>服务</b>（S）</div>
<div class="t" style="left:666.55px;top:237.97px;width:240px;font-size:9.33px;line-height:11.66px;color:#262626;-webkit-text-stroke:0.3px #262626;">算法与机理</div>
<div class="t" style="left:763.6px;top:225.3px;width:240px;font-size:9.6px;line-height:12px;color:#111;"><b>回收</b>（R）</div>
<div class="t" style="left:763.6px;top:237.97px;width:240px;font-size:9.33px;line-height:11.66px;color:#262626;-webkit-text-stroke:0.3px #262626;">算法与机理</div>
<div class="t" style="left:-69.3px;top:119.31px;width:240px;font-size:12.3px;line-height:15.38px;color:#fff;-webkit-text-stroke:0.1px #fff;">业务赋能</div>
<div class="t" style="left:-68px;top:319.25px;width:240px;font-size:12.4px;line-height:15.5px;color:#fff;-webkit-text-stroke:0.1px #fff;">数据</div>
<div class="t" style="left:-68.5px;top:333.91px;width:240px;font-size:12.3px;line-height:15.38px;color:#fff;-webkit-text-stroke:0.1px #fff;">关联与连通</div>
<div class="t" style="left:-67.6px;top:402.38px;width:240px;font-size:12.2px;line-height:15.25px;color:#fff;letter-spacing:0.35px;-webkit-text-stroke:0.1px #fff;">结构化/参数化/</div>
<div class="t" style="left:-68.2px;top:416.51px;width:240px;font-size:12.3px;line-height:15.38px;color:#fff;-webkit-text-stroke:0.1px #fff;">模型化处理</div>
<div class="t" style="left:-76px;top:463.98px;width:240px;font-size:12.2px;line-height:15.25px;color:#fff;-webkit-text-stroke:0.1px #fff;">管理数据</div>
<div class="t" style="left:96.7px;top:288.14px;width:60px;font-size:5.3px;line-height:6.62px;color:#fff;font-weight:bold;">XX需求</div>
<div class="t" style="left:124.45px;top:299.69px;width:60px;font-size:5.3px;line-height:6.62px;color:#fff;font-weight:bold;">总体需求</div>
<div class="t" style="left:124.45px;top:311.34px;width:60px;font-size:5.3px;line-height:6.62px;color:#fff;font-weight:bold;">功能需求</div>
<div class="t" style="left:124.45px;top:345.44px;width:60px;font-size:5.3px;line-height:6.62px;color:#fff;font-weight:bold;">性能需求</div>
<div class="t" style="left:123px;top:368.69px;width:60px;font-size:5.3px;line-height:6.62px;color:#fff;font-weight:bold;">兼容需求</div>
<div class="t" style="left:144.05px;top:322.34px;width:60px;font-size:5.3px;line-height:6.62px;color:#fff;font-weight:bold;">子需求1</div>
<div class="t" style="left:144.05px;top:334.19px;width:60px;font-size:5.3px;line-height:6.62px;color:#fff;font-weight:bold;">子需求2</div>
<div class="t" style="left:144.2px;top:357.19px;width:60px;font-size:5.3px;line-height:6.62px;color:#fff;font-weight:bold;">子需求</div>
<div class="t" style="left:143.5px;top:381.69px;width:60px;font-size:5.3px;line-height:6.62px;color:#fff;font-weight:bold;">子需求1</div>
<div class="t" style="left:143.75px;top:393.29px;width:60px;font-size:5.3px;line-height:6.62px;color:#fff;font-weight:bold;">子需求2</div>
<div class="t" style="left:143.75px;top:406.79px;width:60px;font-size:5.3px;line-height:6.62px;color:#fff;font-weight:bold;">子需求3</div>
<div class="t" style="left:196.2px;top:288.14px;width:60px;font-size:5.3px;line-height:6.62px;color:#fff;font-weight:bold;">XX功能</div>
<div class="t" style="left:223.95px;top:299.69px;width:60px;font-size:5.3px;line-height:6.62px;color:#fff;font-weight:bold;">总体功能</div>
<div class="t" style="left:223.95px;top:311.34px;width:60px;font-size:5.3px;line-height:6.62px;color:#fff;font-weight:bold;">结构体</div>
<div class="t" style="left:223.95px;top:345.44px;width:60px;font-size:5.3px;line-height:6.62px;color:#fff;font-weight:bold;">电气功能</div>
<div class="t" style="left:222.5px;top:368.69px;width:60px;font-size:5.3px;line-height:6.62px;color:#fff;font-weight:bold;">功能3</div>
<div class="t" style="left:243.55px;top:322.34px;width:60px;font-size:5.3px;line-height:6.62px;color:#fff;font-weight:bold;">子功能1</div>
<div class="t" style="left:243.55px;top:334.19px;width:60px;font-size:5.3px;line-height:6.62px;color:#fff;font-weight:bold;">子功能2</div>
<div class="t" style="left:243.7px;top:357.19px;width:60px;font-size:5.3px;line-height:6.62px;color:#fff;font-weight:bold;">子功能</div>
<div class="t" style="left:243px;top:381.69px;width:60px;font-size:5.3px;line-height:6.62px;color:#fff;font-weight:bold;">子功能1</div>
<div class="t" style="left:243.25px;top:393.29px;width:60px;font-size:5.3px;line-height:6.62px;color:#fff;font-weight:bold;">子功能2</div>
<div class="t" style="left:243.25px;top:406.79px;width:60px;font-size:5.3px;line-height:6.62px;color:#fff;font-weight:bold;">子功能3</div>
<div class="t" style="left:296.88px;top:288.19px;width:60px;font-size:5.3px;line-height:6.62px;color:#fff;font-weight:bold;">XX逻辑</div>
<div class="t" style="left:324.25px;top:300.19px;width:60px;font-size:5.3px;line-height:6.62px;color:#fff;font-weight:bold;">逻辑特性</div>
<div class="t" style="left:324.25px;top:311.06px;width:60px;font-size:5.3px;line-height:6.62px;color:#fff;font-weight:bold;">结构体</div>
<div class="t" style="left:324.25px;top:345.44px;width:60px;font-size:5.3px;line-height:6.62px;color:#fff;font-weight:bold;">系统总体</div>
<div class="t" style="left:344.25px;top:322.44px;width:60px;font-size:5.3px;line-height:6.62px;color:#fff;font-weight:bold;">开关结构</div>
<div class="t" style="left:344.25px;top:334.19px;width:60px;font-size:5.3px;line-height:6.62px;color:#fff;font-weight:bold;">加锁机制</div>
<div class="t" style="left:344.25px;top:359.19px;width:60px;font-size:5.3px;line-height:6.62px;color:#fff;font-weight:bold;">逻辑特征</div>
<div class="t" style="left:344.25px;top:372.19px;width:60px;font-size:5.3px;line-height:6.62px;color:#fff;font-weight:bold;">逻辑特征</div>
<div class="t" style="left:344.25px;top:383.94px;width:60px;font-size:5.3px;line-height:6.62px;color:#fff;font-weight:bold;">逻辑特征</div>
<div class="t" style="left:344.25px;top:396.94px;width:60px;font-size:5.3px;line-height:6.62px;color:#fff;font-weight:bold;">逻辑特征</div>
<div class="t" style="left:344.25px;top:410.19px;width:60px;font-size:5.3px;line-height:6.62px;color:#fff;font-weight:bold;">逻辑特征</div>
<div class="t" style="left:393.38px;top:288.19px;width:60px;font-size:5.3px;line-height:6.62px;color:#fff;font-weight:bold;">XX产品</div>
<div class="t" style="left:420.5px;top:300.19px;width:60px;font-size:5.3px;line-height:6.62px;color:#fff;font-weight:bold;">总体要求</div>
<div class="t" style="left:420.5px;top:311.06px;width:60px;font-size:5.3px;line-height:6.62px;color:#fff;font-weight:bold;">结构体</div>
<div class="t" style="left:420px;top:368.94px;width:60px;font-size:5.3px;line-height:6.62px;color:#fff;font-weight:bold;">电气</div>
<div class="t" style="left:440.62px;top:322.44px;width:60px;font-size:5.3px;line-height:6.62px;color:#fff;font-weight:bold;">子结构1</div>
<div class="t" style="left:440.62px;top:334.19px;width:60px;font-size:5.3px;line-height:6.62px;color:#fff;font-weight:bold;">子结构2</div>
<div class="t" style="left:459.62px;top:345.44px;width:60px;font-size:5.3px;line-height:6.62px;color:#fff;font-weight:bold;">管路</div>
<div class="t" style="left:484px;top:357.19px;width:60px;font-size:5.3px;line-height:6.62px;color:#fff;font-weight:bold;">管路阀</div>
<div class="t" style="left:484px;top:368.44px;width:60px;font-size:5.3px;line-height:6.62px;color:#fff;font-weight:bold;">管路阀</div>
<div class="t" style="left:440.88px;top:381.69px;width:60px;font-size:5.3px;line-height:6.62px;color:#fff;font-weight:bold;">电气元件</div>
<div class="t" style="left:440.88px;top:393.44px;width:60px;font-size:5.3px;line-height:6.62px;color:#fff;font-weight:bold;">元件清单</div>
<div class="t" style="left:440.88px;top:406.81px;width:60px;font-size:5.3px;line-height:6.62px;color:#fff;font-weight:bold;">其它</div>
<div class="t" style="left:526.5px;top:287.44px;width:60px;font-size:5.3px;line-height:6.62px;color:#fff;font-weight:bold;">XX部件</div>
<div class="t" style="left:554.25px;top:299.19px;width:60px;font-size:5.3px;line-height:6.62px;color:#fff;font-weight:bold;">部件要求</div>
<div class="t" style="left:554.25px;top:310.44px;width:60px;font-size:5.3px;line-height:6.62px;color:#fff;font-weight:bold;">部件结构</div>
<div class="t" style="left:573.75px;top:322.19px;width:60px;font-size:5.3px;line-height:6.62px;color:#fff;font-weight:bold;">子件1</div>
<div class="t" style="left:573.75px;top:333.44px;width:60px;font-size:5.3px;line-height:6.62px;color:#fff;font-weight:bold;">子件2</div>
<div class="t" style="left:573.75px;top:344.69px;width:60px;font-size:5.3px;line-height:6.62px;color:#fff;font-weight:bold;">子件3</div>
<div class="t" style="left:573.75px;top:356.44px;width:60px;font-size:5.3px;line-height:6.62px;color:#fff;font-weight:bold;">子件4</div>
<div class="t" style="left:527.25px;top:357.94px;width:60px;font-size:5.3px;line-height:6.62px;color:#fff;font-weight:bold;">XX部件</div>
<div class="t" style="left:554.75px;top:369.69px;width:60px;font-size:5.3px;line-height:6.62px;color:#fff;font-weight:bold;">部件要求</div>
<div class="t" style="left:554.75px;top:380.94px;width:60px;font-size:5.3px;line-height:6.62px;color:#fff;font-weight:bold;">部件结构</div>
<div class="t" style="left:574.75px;top:392.19px;width:60px;font-size:5.3px;line-height:6.62px;color:#fff;font-weight:bold;">子件1</div>
<div class="t" style="left:574.75px;top:401.94px;width:60px;font-size:5.3px;line-height:6.62px;color:#fff;font-weight:bold;">子件2</div>
<div class="t" style="left:574.75px;top:411.19px;width:60px;font-size:5.3px;line-height:6.62px;color:#fff;font-weight:bold;">子件3</div>
<div class="t" style="left:630.88px;top:288.69px;width:60px;font-size:5.3px;line-height:6.62px;color:#fff;font-weight:bold;">XX部件</div>
<div class="t" style="left:658.25px;top:300.44px;width:60px;font-size:5.3px;line-height:6.62px;color:#fff;font-weight:bold;">部件要求</div>
<div class="t" style="left:658.25px;top:311.69px;width:60px;font-size:5.3px;line-height:6.62px;color:#fff;font-weight:bold;">部件结构</div>
<div class="t" style="left:678.75px;top:323.31px;width:60px;font-size:5.3px;line-height:6.62px;color:#fff;font-weight:bold;">子件1</div>
<div class="t" style="left:678.75px;top:334.94px;width:60px;font-size:5.3px;line-height:6.62px;color:#fff;font-weight:bold;">子件2</div>
<div class="t" style="left:678.75px;top:344.81px;width:60px;font-size:5.3px;line-height:6.62px;color:#fff;font-weight:bold;">子件3</div>
<div class="t" style="left:678.75px;top:354.19px;width:60px;font-size:5.3px;line-height:6.62px;color:#fff;font-weight:bold;">子件4</div>
<div class="t" style="left:631.88px;top:359.19px;width:60px;font-size:5.3px;line-height:6.62px;color:#fff;font-weight:bold;">XX部件</div>
<div class="t" style="left:659.38px;top:370.94px;width:60px;font-size:5.3px;line-height:6.62px;color:#fff;font-weight:bold;">部件要求</div>
<div class="t" style="left:659.38px;top:382.19px;width:60px;font-size:5.3px;line-height:6.62px;color:#fff;font-weight:bold;">部件结构</div>
<div class="t" style="left:679.75px;top:392.19px;width:60px;font-size:5.3px;line-height:6.62px;color:#fff;font-weight:bold;">子件1</div>
<div class="t" style="left:679.75px;top:401.94px;width:60px;font-size:5.3px;line-height:6.62px;color:#fff;font-weight:bold;">子件2</div>
<div class="t" style="left:679.75px;top:411.19px;width:60px;font-size:5.3px;line-height:6.62px;color:#fff;font-weight:bold;">子件3</div>
<div class="t" style="left:737.62px;top:288.19px;width:60px;font-size:5.3px;line-height:6.62px;color:#fff;font-weight:bold;">车床</div>
<div class="t" style="left:765px;top:299.94px;width:60px;font-size:5.3px;line-height:6.62px;color:#fff;font-weight:bold;">XX车床</div>
<div class="t" style="left:765px;top:311.19px;width:60px;font-size:5.3px;line-height:6.62px;color:#fff;font-weight:bold;">量具</div>
<div class="t" style="left:765px;top:338.69px;width:60px;font-size:5.3px;line-height:6.62px;color:#fff;font-weight:bold;">工装</div>
<div class="t" style="left:785.25px;top:319.69px;width:60px;font-size:5.3px;line-height:6.62px;color:#fff;font-weight:bold;">XX量具</div>
<div class="t" style="left:785.25px;top:329.19px;width:60px;font-size:5.3px;line-height:6.62px;color:#fff;font-weight:bold;">XX量具</div>
<div class="t" style="left:785.25px;top:348.44px;width:60px;font-size:5.3px;line-height:6.62px;color:#fff;font-weight:bold;">卡具</div>
<div class="t" style="left:738.38px;top:352.94px;width:60px;font-size:5.3px;line-height:6.62px;color:#fff;font-weight:bold;">车床</div>
<div class="t" style="left:765.75px;top:364.44px;width:60px;font-size:5.3px;line-height:6.62px;color:#fff;font-weight:bold;">XX车床</div>
<div class="t" style="left:765.75px;top:375.69px;width:60px;font-size:5.3px;line-height:6.62px;color:#fff;font-weight:bold;">量具</div>
<div class="t" style="left:765.75px;top:403.44px;width:60px;font-size:5.3px;line-height:6.62px;color:#fff;font-weight:bold;">工装</div>
<div class="t" style="left:785.5px;top:384.19px;width:60px;font-size:5.3px;line-height:6.62px;color:#fff;font-weight:bold;">XX量具</div>
<div class="t" style="left:785.5px;top:393.44px;width:60px;font-size:5.3px;line-height:6.62px;color:#fff;font-weight:bold;">XX量具</div>
<div class="t" style="left:785.5px;top:415.56px;width:60px;font-size:5.3px;line-height:6.62px;color:#fff;font-weight:bold;">卡具</div>
<div class="t" style="left:829.25px;top:289.44px;width:60px;font-size:5.3px;line-height:6.62px;color:#fff;font-weight:bold;">XX产品</div>
<div class="t" style="left:857px;top:301.06px;width:60px;font-size:5.3px;line-height:6.62px;color:#fff;font-weight:bold;">总体要求</div>
<div class="t" style="left:857px;top:312.56px;width:60px;font-size:5.3px;line-height:6.62px;color:#fff;font-weight:bold;">结构体</div>
<div class="t" style="left:857px;top:344.69px;width:60px;font-size:5.3px;line-height:6.62px;color:#fff;font-weight:bold;">复用件</div>
<div class="t" style="left:857px;top:353.94px;width:60px;font-size:5.3px;line-height:6.62px;color:#fff;font-weight:bold;">结构2</div>
<div class="t" style="left:857px;top:363.69px;width:60px;font-size:5.3px;line-height:6.62px;color:#fff;font-weight:bold;">结构3</div>
<div class="t" style="left:858px;top:378.19px;width:60px;font-size:5.3px;line-height:6.62px;color:#fff;font-weight:bold;">电气</div>
<div class="t" style="left:876.75px;top:324.19px;width:60px;font-size:5.3px;line-height:6.62px;color:#fff;font-weight:bold;">子结构1</div>
<div class="t" style="left:876.75px;top:335.44px;width:60px;font-size:5.3px;line-height:6.62px;color:#fff;font-weight:bold;">子结构2</div>
<div class="t" style="left:877px;top:387.94px;width:60px;font-size:5.3px;line-height:6.62px;color:#fff;font-weight:bold;">电气元件</div>
<div class="t" style="left:877px;top:397.94px;width:60px;font-size:5.3px;line-height:6.62px;color:#fff;font-weight:bold;">元件清单</div>
<div class="t" style="left:877px;top:407.44px;width:60px;font-size:5.3px;line-height:6.62px;color:#fff;font-weight:bold;">其它</div>
<div class="t" style="left:115.55px;top:287px;width:120px;font-size:8px;line-height:10px;color:#404040;letter-spacing:0.05px;">需求结构化表达</div>
<div class="t" style="left:214px;top:287.6px;width:120px;font-size:8px;line-height:10px;color:#404040;letter-spacing:0.05px;">功能结构化表达</div>
<div class="t" style="left:314.62px;top:286.8px;width:120px;font-size:8px;line-height:10px;color:#404040;letter-spacing:0.05px;">逻辑结构化表达</div>
<div class="t" style="left:412.5px;top:287.6px;width:120px;font-size:8px;line-height:10px;color:#404040;letter-spacing:0.05px;">产品工程EBOM</div>
<div class="t" style="left:542.5px;top:285.9px;width:120px;font-size:8px;line-height:10px;color:#404040;letter-spacing:0.05px;">产品工艺PBOM</div>
<div class="t" style="left:648.25px;top:287.2px;width:120px;font-size:8px;line-height:10px;color:#404040;letter-spacing:0.05px;">产品制造MBOM</div>
<div class="t" style="left:753.62px;top:286.8px;width:120px;font-size:8px;line-height:10px;color:#404040;letter-spacing:0.05px;">产品服务SBOM</div>
<div class="t" style="left:836.12px;top:287.2px;width:120px;font-size:8px;line-height:10px;color:#404040;letter-spacing:0.05px;">产品回收</div>
<div class="t" style="left:783.2px;top:461.52px;width:240px;font-size:9.4px;line-height:11.75px;color:#383838;font-weight:bold;">其它</div>
</body></html>
